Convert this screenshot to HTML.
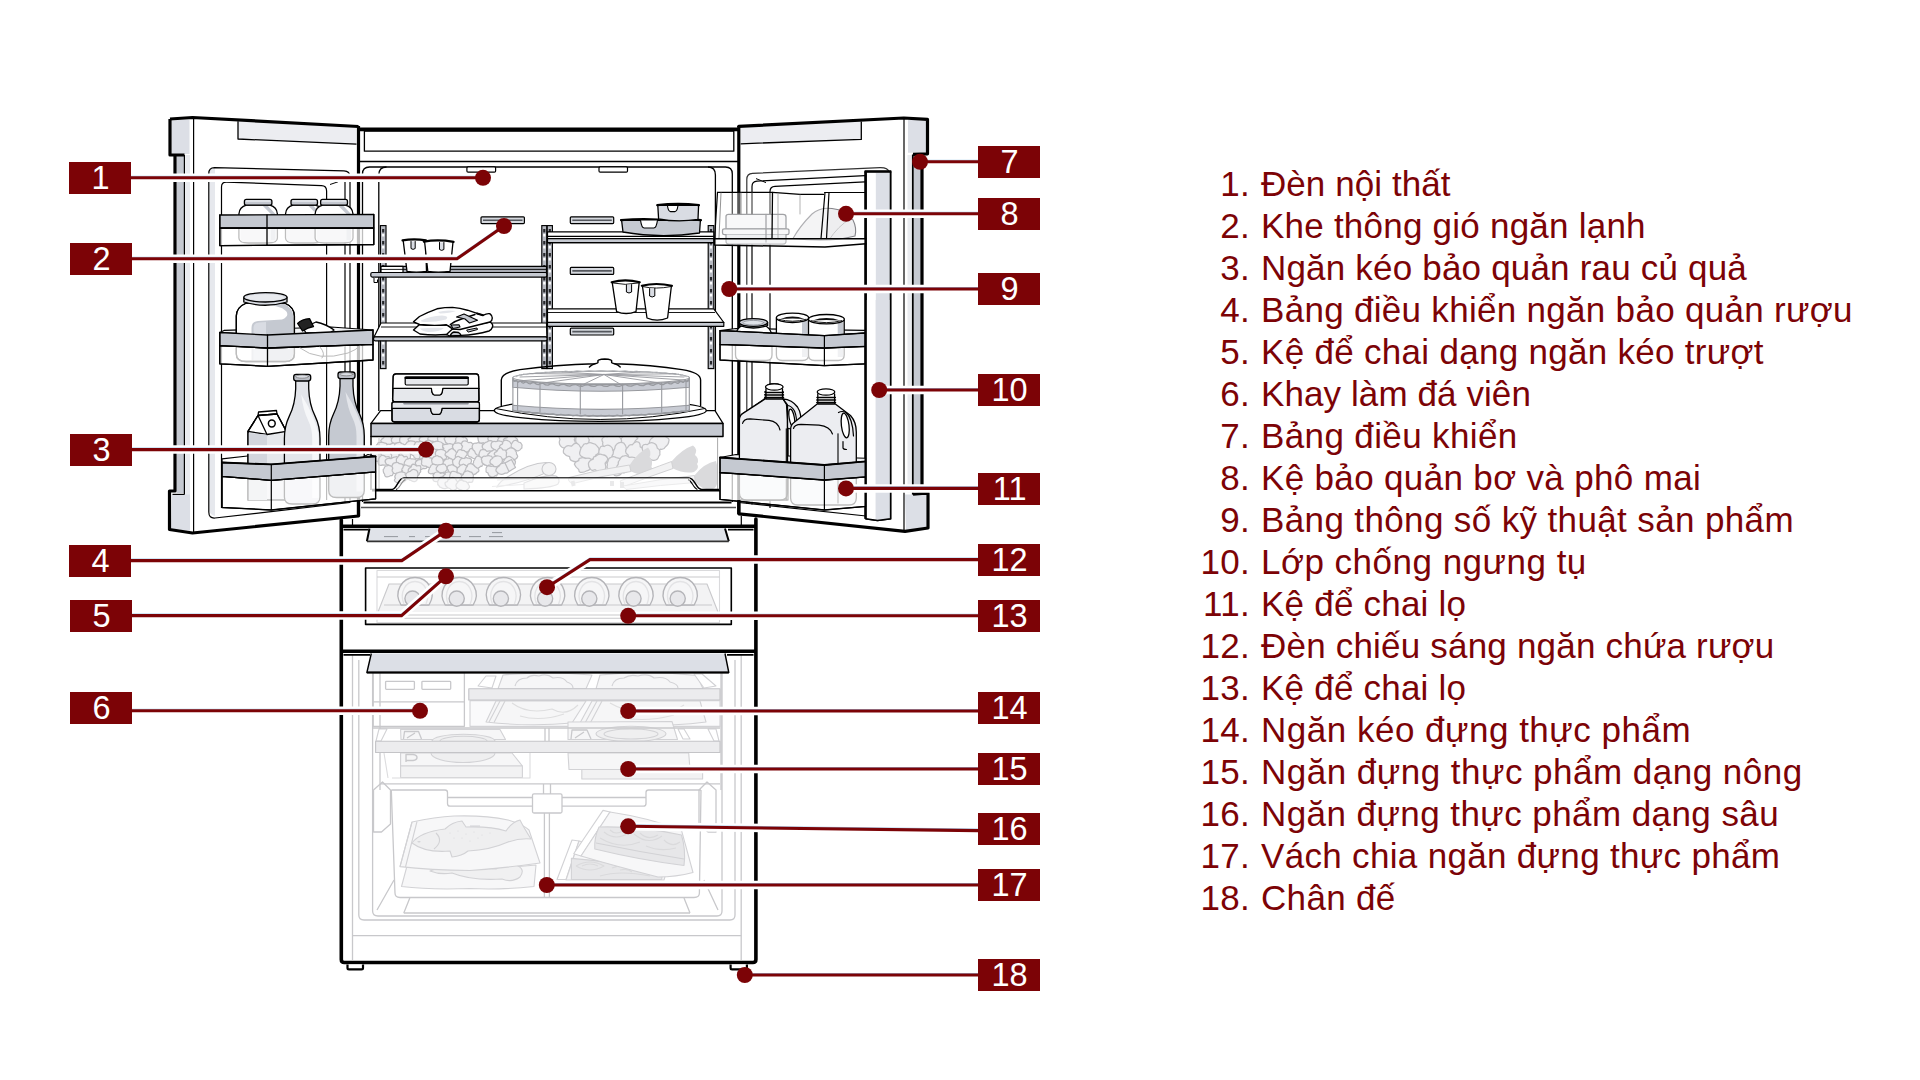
<!DOCTYPE html>
<html lang="vi"><head><meta charset="utf-8"><title>Sơ đồ tủ lạnh</title>
<style>
html,body{margin:0;padding:0;background:#fff;}
body{width:1920px;height:1080px;position:relative;overflow:hidden;font-family:"Liberation Sans",sans-serif;}
#legend{position:absolute;left:0;top:0;color:#7c0306;font-size:35px;letter-spacing:0.32px;}
#legend div{position:absolute;white-space:nowrap;line-height:42px;height:42px;}
#legend .n{text-align:right;width:1250px;left:0;}
#legend .t{left:1261px;}
svg text{font-family:"Liberation Sans",sans-serif;}
</style></head><body>
<svg width="1920" height="1080" viewBox="0 0 1920 1080" style="position:absolute;left:0;top:0">
<!-- 10_cabinet_upper.svg -->
<g id="cab-upper" stroke-linejoin="round" stroke-linecap="butt">
  <!-- back white -->
  <rect x="358" y="128" width="381" height="398" fill="#fff"/>
  <!-- top thick edge -->
  <line x1="357" y1="129.4" x2="739" y2="129.4" stroke="#000" stroke-width="3.6"/>
  <rect x="364.4" y="131.2" width="369.4" height="20" fill="none" stroke="#000" stroke-width="1.3"/>
  <line x1="360" y1="161.5" x2="738" y2="161.5" stroke="#000" stroke-width="1.6"/>
  <!-- liner outer / inner -->
  <path d="M362.5 502 V174 Q362.5 167 369.5 167 H725.5 Q732.3 167 732.3 174 V502" fill="none" stroke="#000" stroke-width="1.3"/>
  <path d="M378.8 411 V175 Q378.8 167 386.5 167" fill="none" stroke="#000" stroke-width="1.3"/>
  <path d="M715.4 411 V175 Q715.4 167 708 167" fill="none" stroke="#000" stroke-width="1.3"/>
  <!-- interior lights -->
  <rect x="466.9" y="166.9" width="28.7" height="5.3" rx="1.2" fill="#fff" stroke="#000" stroke-width="1.2"/>
  <rect x="599" y="166.9" width="28.5" height="5.3" rx="1.2" fill="#fff" stroke="#000" stroke-width="1.2"/>
  <!-- vent slots -->
  <g fill="#d5d8de" stroke="#000" stroke-width="1.2">
    <rect x="481" y="216.8" width="43.4" height="6.8" rx="1"/>
    <rect x="570.3" y="216.8" width="43.4" height="6.8" rx="1"/>
    <rect x="570.3" y="267.4" width="43.4" height="7" rx="1"/>
    <rect x="570.3" y="328.2" width="43.4" height="6.8" rx="1"/>
  </g>
  <g stroke="#55585e" stroke-width="1.6">
    <line x1="483" y1="220.2" x2="522.5" y2="220.2"/>
    <line x1="572.3" y1="220.2" x2="611.8" y2="220.2"/>
    <line x1="572.3" y1="270.9" x2="611.8" y2="270.9"/>
    <line x1="572.3" y1="331.6" x2="611.8" y2="331.6"/>
  </g>
</g>

<!-- 11_rails.svg -->
<g id="rails">
<rect x="380.4" y="225.6" width="5.6" height="143.0" fill="#b7bac2" stroke="#000" stroke-width="1.150"/><line x1="383.2" y1="229.1" x2="383.2" y2="366.6" stroke="#26272b" stroke-width="2.2" stroke-dasharray="3.400 8.600"/><line x1="383.2" y1="234.1" x2="383.2" y2="366.6" stroke="#fff" stroke-width="2.2" stroke-dasharray="2.400 9.600"/>
<rect x="541.8" y="225.6" width="5.0" height="143.0" fill="#b7bac2" stroke="#000" stroke-width="1.150"/><line x1="544.3" y1="229.1" x2="544.3" y2="366.6" stroke="#26272b" stroke-width="2.2" stroke-dasharray="3.400 8.600"/><line x1="544.3" y1="234.1" x2="544.3" y2="366.6" stroke="#fff" stroke-width="2.2" stroke-dasharray="2.400 9.600"/>
<rect x="547.2" y="225.6" width="5.2" height="143.0" fill="#b7bac2" stroke="#000" stroke-width="1.150"/><line x1="549.8" y1="229.1" x2="549.8" y2="366.6" stroke="#26272b" stroke-width="2.2" stroke-dasharray="3.400 8.600"/><line x1="549.8" y1="234.1" x2="549.8" y2="366.6" stroke="#fff" stroke-width="2.2" stroke-dasharray="2.400 9.600"/>
<rect x="708.2" y="225.6" width="5.6" height="143.0" fill="#b7bac2" stroke="#000" stroke-width="1.150"/><line x1="711.0" y1="229.1" x2="711.0" y2="366.6" stroke="#26272b" stroke-width="2.2" stroke-dasharray="3.400 8.600"/><line x1="711.0" y1="234.1" x2="711.0" y2="366.6" stroke="#fff" stroke-width="2.2" stroke-dasharray="2.400 9.600"/>
</g>
<!-- 11b_crisper.svg -->
<g id="crisper" clip-path="url(#clipCrisper)"><clipPath id="clipCrisper"><rect x="371.6" y="437.2" width="346" height="52.2"/></clipPath>
<rect x="371.6" y="437" width="346" height="52" fill="#fff"/>
<g fill="#efeff1" stroke="#bdbdc0" stroke-width="1.250" stroke-linejoin="round">
<path d="M393.1 440.8 Q393.9 442.5 392.3 443.4 Q391.5 444.7 389.7 445.0 Q387.4 446.2 385.0 445.8 Q383.7 445.3 383.5 443.4 Q381.4 442.4 380.6 440.9 Q381.1 439.1 383.8 437.6 Q384.5 434.8 386.1 433.8 Q388.0 432.8 389.6 435.0 Q390.7 435.4 390.7 437.5 Q393.0 438.9 393.1 440.8Z"/>
<path d="M402.2 440.4 Q403.9 443.5 402.2 445.1 Q401.0 446.6 398.4 446.1 Q397.0 446.2 395.7 444.9 Q394.0 444.8 393.4 443.1 Q391.2 441.9 391.4 440.1 Q391.3 438.3 392.9 437.2 Q394.0 435.2 395.8 434.5 Q396.8 434.3 397.8 436.1 Q400.9 436.0 402.1 438.0 Q403.6 438.9 402.2 440.4Z"/>
<path d="M409.9 438.8 Q410.7 440.8 409.1 442.1 Q408.7 444.1 407.0 444.1 Q405.5 445.3 403.9 444.9 Q401.3 445.5 400.7 443.0 Q399.4 441.8 399.7 439.8 Q399.4 438.2 400.9 436.9 Q401.8 433.9 404.2 433.3 Q405.7 432.2 407.1 433.2 Q408.9 433.8 409.6 436.0 Q410.3 437.1 409.9 438.8Z"/>
<path d="M420.9 439.8 Q421.4 441.7 419.6 443.1 Q418.1 444.8 415.8 445.4 Q414.1 446.4 412.5 446.1 Q410.9 446.0 411.1 443.1 Q408.7 441.5 408.0 439.5 Q407.8 438.3 410.5 437.9 Q411.3 435.3 413.0 434.1 Q414.7 432.3 416.4 434.0 Q419.1 434.7 420.2 437.5 Q421.6 438.4 420.9 439.8Z"/>
<path d="M429.6 440.1 Q431.2 442.6 430.1 444.4 Q428.8 445.7 426.0 445.1 Q424.1 445.5 422.4 444.7 Q421.2 444.8 420.8 443.9 Q419.9 442.5 419.9 440.7 Q418.4 439.1 419.8 438.2 Q420.7 436.5 423.1 436.6 Q424.9 434.0 426.4 434.6 Q428.8 435.8 430.1 438.0 Q431.2 438.7 429.6 440.1Z"/>
<path d="M390.0 447.7 Q390.5 449.5 388.0 450.7 Q387.0 453.5 384.4 454.2 Q382.3 454.6 380.3 453.4 Q377.4 453.5 376.6 451.3 Q374.4 450.4 376.3 448.4 Q375.2 445.5 377.6 443.9 Q378.0 441.9 380.5 442.5 Q382.9 441.8 385.2 443.2 Q387.2 443.2 387.3 445.4 Q390.1 446.2 390.0 447.7Z"/>
<path d="M398.6 447.7 Q399.2 449.5 397.5 451.0 Q396.5 452.7 393.7 452.7 Q391.8 453.7 389.9 453.3 Q387.2 453.5 386.2 452.0 Q385.4 450.9 387.6 448.7 Q385.7 446.6 386.7 445.4 Q387.3 443.8 390.1 444.4 Q392.5 443.0 394.8 443.3 Q397.2 442.9 397.7 444.7 Q399.3 445.8 398.6 447.7Z"/>
<path d="M407.5 448.0 Q408.5 450.4 406.2 451.5 Q405.2 452.4 402.5 451.4 Q400.8 452.4 399.1 451.8 Q397.0 452.3 396.4 450.7 Q395.0 449.1 394.8 447.2 Q394.0 445.4 394.9 444.1 Q396.6 442.3 399.7 442.4 Q400.6 442.4 401.5 443.5 Q403.7 443.6 404.6 445.4 Q407.0 446.6 407.5 448.0Z"/>
<path d="M415.9 446.2 Q416.6 448.3 415.2 449.5 Q414.4 452.3 411.8 452.3 Q410.0 452.8 408.4 450.2 Q406.9 449.9 406.2 448.7 Q403.8 448.2 404.4 446.8 Q404.1 444.8 406.4 443.2 Q406.8 441.9 408.1 441.6 Q410.3 440.4 412.3 441.1 Q415.0 440.9 415.7 442.8 Q417.5 444.0 415.9 446.2Z"/>
<path d="M427.1 448.3 Q426.6 450.0 424.6 451.2 Q423.7 452.3 421.7 451.9 Q419.6 453.7 417.8 453.2 Q415.3 453.2 414.9 450.8 Q412.8 449.9 413.3 448.2 Q413.5 445.4 415.2 443.1 Q415.7 441.1 418.4 441.9 Q420.3 440.9 422.2 441.5 Q424.6 442.2 425.1 445.2 Q427.0 446.6 427.1 448.3Z"/>
<path d="M382.3 455.2 Q384.0 457.6 382.8 459.1 Q381.8 461.6 378.9 461.3 Q376.8 461.7 375.0 460.4 Q373.2 460.0 373.4 457.6 Q370.9 457.3 371.6 456.1 Q370.5 454.0 372.0 452.6 Q373.1 450.6 375.9 450.6 Q378.0 449.9 380.0 450.8 Q381.6 450.8 381.8 452.6 Q383.1 453.5 382.3 455.2Z"/>
<path d="M393.7 454.1 Q394.5 455.8 393.4 456.8 Q392.4 458.6 389.5 458.4 Q387.8 459.1 386.1 457.2 Q384.2 457.2 383.2 456.3 Q380.4 454.7 380.7 452.5 Q381.1 451.4 382.9 450.7 Q383.6 449.2 385.5 448.8 Q388.1 447.4 390.6 447.6 Q392.3 448.0 392.1 450.6 Q393.8 452.2 393.7 454.1Z"/>
<path d="M403.1 454.5 Q404.0 456.4 401.7 457.8 Q401.1 459.5 398.5 459.3 Q396.6 461.0 394.8 460.0 Q392.9 459.8 392.1 458.3 Q391.1 457.0 391.7 455.1 Q389.9 453.3 391.2 452.3 Q392.5 450.5 395.0 450.1 Q397.2 448.5 399.1 450.1 Q401.1 450.4 401.0 452.9 Q402.8 453.5 403.1 454.5Z"/>
<path d="M410.4 455.2 Q410.8 457.2 409.9 458.8 Q408.7 459.7 406.8 459.6 Q405.3 461.4 403.9 461.0 Q402.4 460.7 402.1 458.6 Q399.1 457.2 398.6 455.2 Q399.7 453.6 402.3 452.6 Q402.6 450.6 403.7 449.9 Q405.7 449.1 407.7 450.1 Q409.2 450.3 409.2 452.8 Q411.1 453.5 410.4 455.2Z"/>
<path d="M424.4 452.8 Q425.5 455.3 422.7 457.0 Q422.1 458.9 419.4 458.4 Q417.5 459.6 415.5 458.4 Q413.8 458.1 413.6 455.8 Q410.7 454.8 410.4 453.2 Q410.2 451.8 412.3 451.0 Q413.4 449.0 415.9 448.8 Q417.1 448.1 418.4 449.4 Q420.4 449.3 420.9 451.3 Q424.2 451.6 424.4 452.8Z"/>
<path d="M431.5 456.5 Q431.6 458.4 429.0 459.3 Q428.1 461.6 426.1 462.2 Q424.1 463.3 422.3 461.6 Q420.3 461.1 420.0 458.7 Q419.0 457.5 420.2 455.8 Q419.1 454.2 419.9 453.2 Q420.0 451.3 422.3 451.7 Q424.6 450.1 427.0 450.9 Q429.6 450.2 430.2 451.9 Q432.5 453.7 431.5 456.5Z"/>
<path d="M390.8 461.0 Q390.6 462.4 388.9 463.4 Q388.7 465.1 386.4 464.8 Q384.7 465.4 382.9 464.8 Q380.1 465.7 378.8 464.9 Q377.7 463.1 378.3 460.7 Q377.9 458.5 379.8 457.0 Q380.8 455.0 383.2 455.3 Q384.6 455.5 386.0 457.0 Q389.0 456.1 389.7 457.5 Q391.5 458.9 390.8 461.0Z"/>
<path d="M397.6 462.3 Q398.4 464.4 397.1 465.9 Q396.7 467.8 394.7 467.9 Q393.2 468.6 391.2 466.4 Q389.7 466.3 388.9 465.1 Q386.2 464.5 385.7 463.1 Q384.2 460.6 386.5 459.0 Q387.9 457.8 391.2 458.6 Q393.6 456.7 395.5 456.8 Q397.8 455.9 397.5 458.2 Q399.0 459.6 397.6 462.3Z"/>
<path d="M407.8 461.3 Q408.2 462.5 406.0 463.2 Q405.4 464.9 403.5 465.1 Q401.8 466.7 400.2 466.5 Q398.5 465.9 397.9 463.8 Q395.9 462.7 396.4 461.0 Q395.8 458.9 397.5 457.6 Q398.5 455.0 400.9 454.8 Q402.5 454.5 404.0 456.9 Q406.6 455.7 407.2 456.8 Q408.4 458.7 407.8 461.3Z"/>
<path d="M417.4 464.4 Q416.7 465.2 414.6 465.6 Q414.0 467.4 412.6 468.3 Q410.8 469.2 408.9 467.6 Q407.1 467.6 406.7 466.0 Q404.0 465.6 404.1 464.4 Q403.9 462.1 405.5 460.3 Q406.3 458.7 408.5 458.8 Q410.0 458.1 411.7 459.0 Q415.0 458.6 416.4 460.5 Q418.1 462.2 417.4 464.4Z"/>
<path d="M427.2 463.4 Q428.5 466.1 426.7 467.8 Q425.8 469.2 423.0 468.3 Q421.5 470.0 419.9 469.8 Q418.5 468.8 417.8 466.5 Q415.7 465.3 415.4 463.6 Q414.9 461.8 417.1 460.7 Q418.1 459.5 420.1 459.7 Q421.4 458.3 422.7 458.2 Q424.6 458.2 425.1 460.5 Q427.3 461.5 427.2 463.4Z"/>
<path d="M394.4 471.6 Q394.3 473.1 392.8 474.1 Q392.6 475.9 390.8 475.6 Q388.1 477.6 385.7 476.6 Q384.5 476.1 384.6 474.1 Q383.3 472.8 383.3 471.2 Q382.6 469.4 384.2 468.2 Q384.5 466.2 386.4 466.0 Q388.7 464.9 391.1 466.1 Q393.8 466.0 394.0 468.2 Q395.6 469.7 394.4 471.6Z"/>
<path d="M404.7 468.4 Q404.5 469.6 402.0 470.3 Q401.5 473.3 399.6 474.4 Q398.2 475.6 396.7 473.8 Q394.1 474.3 393.0 472.3 Q391.4 470.8 392.8 468.1 Q391.4 466.4 392.2 465.3 Q392.9 462.7 395.9 462.7 Q397.6 461.9 399.4 463.7 Q402.5 463.6 403.6 465.7 Q405.8 466.7 404.7 468.4Z"/>
<path d="M413.7 471.6 Q414.8 473.5 412.7 474.2 Q411.3 475.6 408.8 475.7 Q407.4 475.9 406.1 474.9 Q402.9 475.4 401.3 474.2 Q400.6 473.0 402.6 471.0 Q401.1 469.2 402.6 468.2 Q403.3 466.0 404.8 464.8 Q406.5 464.7 408.5 466.2 Q410.8 465.9 412.2 467.0 Q413.8 469.0 413.7 471.6Z"/>
<path d="M420.3 470.4 Q421.3 471.9 419.7 472.7 Q419.5 474.9 417.9 475.7 Q415.9 476.8 413.7 475.5 Q411.2 475.1 410.2 472.9 Q408.1 472.1 408.2 470.7 Q408.0 468.4 411.2 467.0 Q411.4 464.4 413.1 464.2 Q414.9 464.2 416.7 466.0 Q419.0 465.4 420.4 465.9 Q421.5 467.7 420.3 470.4Z"/>
<path d="M407.6 478.3 Q407.9 479.5 405.6 480.1 Q404.8 481.6 403.2 482.2 Q401.0 483.5 398.9 482.7 Q396.2 483.0 395.3 481.5 Q393.4 480.5 395.4 478.3 Q394.1 476.3 395.6 475.0 Q395.7 472.5 398.3 472.5 Q401.2 471.5 404.1 472.4 Q405.6 472.4 405.2 474.8 Q407.4 476.2 407.6 478.3Z"/>
<path d="M417.5 476.3 Q418.0 477.8 417.3 479.0 Q417.0 481.0 415.3 481.4 Q413.4 482.2 411.1 480.4 Q409.4 480.4 408.6 479.1 Q406.1 477.9 406.0 475.9 Q405.3 473.9 407.1 472.7 Q408.2 471.5 410.2 471.3 Q412.4 468.8 414.7 469.7 Q417.4 470.1 418.0 473.0 Q418.6 474.4 417.5 476.3Z"/>
<path d="M439.9 439.2 Q440.0 440.7 438.4 442.0 Q437.9 444.1 436.0 444.7 Q434.5 445.6 432.7 443.7 Q430.3 443.6 429.3 441.9 Q427.8 440.4 427.8 438.7 Q427.9 437.2 429.7 436.3 Q430.9 435.3 432.8 435.3 Q433.8 434.7 434.8 435.3 Q437.7 435.0 439.3 436.2 Q440.3 437.5 439.9 439.2Z"/>
<path d="M450.6 439.8 Q451.3 442.2 449.5 443.7 Q448.8 445.2 446.1 444.3 Q444.6 445.1 443.0 443.6 Q440.3 444.3 439.1 443.3 Q437.5 441.3 437.6 438.9 Q436.9 437.0 439.4 436.3 Q439.6 434.7 441.9 435.5 Q443.8 433.8 445.9 434.4 Q447.7 434.6 448.3 436.5 Q450.6 437.8 450.6 439.8Z"/>
<path d="M457.3 441.4 Q458.3 443.5 456.7 444.5 Q456.4 446.7 454.3 446.5 Q452.1 446.8 449.7 444.8 Q448.2 444.9 447.7 443.8 Q444.8 442.6 445.0 440.5 Q443.2 438.3 445.4 437.2 Q446.3 435.3 449.4 435.8 Q451.1 433.7 452.9 434.3 Q455.3 434.6 456.7 436.4 Q458.6 438.4 457.3 441.4Z"/>
<path d="M467.5 440.8 Q467.0 442.6 465.1 444.1 Q464.4 445.3 462.7 445.1 Q461.7 446.3 460.5 445.5 Q457.2 445.4 455.0 444.1 Q454.2 442.9 456.0 441.0 Q455.2 438.9 456.2 437.5 Q456.9 435.8 459.3 436.1 Q461.2 436.0 463.1 437.6 Q465.2 436.8 465.7 437.8 Q467.3 439.0 467.5 440.8Z"/>
<path d="M435.4 447.1 Q435.6 448.5 433.8 449.2 Q432.9 451.1 431.0 451.8 Q428.8 453.3 426.7 451.8 Q423.8 452.4 423.3 450.2 Q421.1 448.4 422.4 445.7 Q422.1 444.2 424.6 443.5 Q425.0 440.7 427.2 440.3 Q429.2 439.8 431.1 441.3 Q433.9 440.9 434.9 442.5 Q435.9 444.6 435.4 447.1Z"/>
<path d="M442.7 447.3 Q443.5 448.8 442.8 450.0 Q441.7 451.8 438.7 451.6 Q437.2 452.5 435.7 452.0 Q434.1 451.8 433.6 449.9 Q430.1 448.5 429.9 446.5 Q430.0 444.6 431.7 443.4 Q432.6 441.7 434.9 441.6 Q436.7 440.5 438.6 441.5 Q441.5 441.7 442.9 443.7 Q443.6 445.2 442.7 447.3Z"/>
<path d="M454.4 448.2 Q454.8 449.9 452.5 450.8 Q453.4 453.7 452.0 454.0 Q449.9 454.6 447.4 453.4 Q444.0 453.4 442.5 451.4 Q442.3 450.2 443.9 448.4 Q441.8 446.2 442.9 445.0 Q445.0 444.0 448.0 444.0 Q449.6 443.3 451.1 443.9 Q452.8 443.9 452.9 445.8 Q454.5 446.7 454.4 448.2Z"/>
<path d="M463.3 448.8 Q465.2 451.3 464.0 452.6 Q462.9 453.5 460.0 452.4 Q458.6 453.5 457.2 453.1 Q455.1 452.9 454.2 450.9 Q453.2 450.1 453.4 449.0 Q451.6 446.3 453.2 444.8 Q453.9 443.1 456.3 443.2 Q458.7 442.2 461.0 443.6 Q462.5 443.6 462.5 445.5 Q463.4 446.9 463.3 448.8Z"/>
<path d="M473.8 446.3 Q473.8 447.8 471.7 449.0 Q470.7 450.9 468.3 451.2 Q466.9 452.9 465.6 452.0 Q462.9 452.5 461.8 450.9 Q461.1 448.9 462.6 446.2 Q460.7 444.2 461.6 443.4 Q462.1 440.9 464.6 440.8 Q466.5 440.6 468.6 442.6 Q471.4 441.9 472.2 443.5 Q473.9 444.6 473.8 446.3Z"/>
<path d="M439.4 454.0 Q440.7 456.0 439.8 457.2 Q438.6 459.4 435.9 459.6 Q434.4 460.2 433.0 458.9 Q430.5 459.3 429.7 457.4 Q429.1 455.8 429.8 453.8 Q428.0 451.5 429.2 450.3 Q429.9 448.0 432.3 447.9 Q433.7 447.6 435.4 449.6 Q437.7 448.8 438.5 450.2 Q439.8 451.8 439.4 454.0Z"/>
<path d="M447.2 453.6 Q448.0 455.8 446.6 457.5 Q446.4 459.5 444.2 459.3 Q442.6 461.5 440.6 460.2 Q439.0 459.4 438.1 457.3 Q435.7 456.5 435.5 454.8 Q434.7 452.1 436.9 450.3 Q437.7 449.5 439.5 449.7 Q441.3 449.1 443.3 449.9 Q445.4 450.2 446.0 452.4 Q447.3 452.8 447.2 453.6Z"/>
<path d="M456.8 454.1 Q458.8 456.0 458.7 457.3 Q457.2 459.7 453.7 459.9 Q452.4 460.8 451.0 458.7 Q448.8 458.6 448.0 456.8 Q444.8 456.0 445.0 454.3 Q445.1 452.6 447.7 451.6 Q448.9 449.4 451.1 448.8 Q452.1 447.6 453.2 449.3 Q455.1 449.9 456.0 452.0 Q457.6 452.7 456.8 454.1Z"/>
<path d="M467.2 453.9 Q467.3 455.4 465.5 456.6 Q465.4 458.9 463.4 459.1 Q461.7 460.5 459.7 459.3 Q457.0 458.8 455.5 457.0 Q454.8 455.6 456.2 453.9 Q456.1 452.8 457.3 452.1 Q457.7 449.8 459.8 449.7 Q461.0 449.3 462.2 450.5 Q464.3 450.0 465.0 451.3 Q467.4 452.1 467.2 453.9Z"/>
<path d="M478.3 453.1 Q480.1 455.1 478.9 456.4 Q478.1 458.7 475.1 458.9 Q473.3 458.8 471.3 457.2 Q469.5 457.2 468.7 456.2 Q467.5 455.4 467.9 454.0 Q467.4 452.2 469.1 450.9 Q469.3 449.1 470.7 448.7 Q472.4 448.2 474.3 449.3 Q476.6 449.2 477.1 450.9 Q478.5 451.8 478.3 453.1Z"/>
<path d="M432.6 461.4 Q433.8 463.0 433.7 464.4 Q432.6 466.8 430.1 467.5 Q427.9 467.7 425.8 466.0 Q423.1 466.4 422.2 465.2 Q420.8 464.1 421.7 462.3 Q421.2 459.7 422.5 457.7 Q424.1 456.7 427.1 457.3 Q428.5 456.7 429.7 457.9 Q431.6 457.8 432.6 458.8 Q433.7 459.7 432.6 461.4Z"/>
<path d="M443.1 460.8 Q444.6 462.6 442.8 463.7 Q441.7 465.9 439.0 466.2 Q437.4 466.2 435.8 464.7 Q433.7 465.2 433.1 464.0 Q431.7 463.1 431.9 461.7 Q431.0 459.9 432.3 458.5 Q433.2 456.4 435.8 456.1 Q437.3 454.9 438.8 456.6 Q440.6 456.4 441.4 457.6 Q443.4 458.8 443.1 460.8Z"/>
<path d="M455.3 463.3 Q455.2 464.7 453.7 465.9 Q453.5 468.3 451.6 468.7 Q449.2 469.1 446.8 467.5 Q445.4 466.8 445.1 465.0 Q443.1 464.6 443.2 463.6 Q442.5 461.8 444.5 460.4 Q445.7 458.8 448.3 458.8 Q449.3 457.7 450.2 458.6 Q452.4 458.8 453.4 460.6 Q455.8 461.6 455.3 463.3Z"/>
<path d="M465.7 461.4 Q466.3 463.5 464.1 464.9 Q462.7 466.7 460.3 467.3 Q457.9 468.0 455.7 467.2 Q454.3 466.9 454.0 465.4 Q452.5 463.8 452.6 461.7 Q452.1 460.1 454.3 459.1 Q455.3 457.3 457.2 456.6 Q458.5 455.9 459.9 457.3 Q461.9 457.1 462.5 459.0 Q465.3 459.9 465.7 461.4Z"/>
<path d="M470.3 463.8 Q471.2 465.2 470.8 466.1 Q469.5 467.9 467.0 468.1 Q465.3 469.0 463.8 467.6 Q462.0 467.3 461.2 465.9 Q459.3 465.0 459.1 463.6 Q459.1 461.2 460.6 459.3 Q461.6 457.8 464.1 458.5 Q466.2 456.8 468.0 458.2 Q471.1 457.9 471.6 460.3 Q471.7 461.8 470.3 463.8Z"/>
<path d="M439.6 469.6 Q440.5 472.1 439.4 473.9 Q438.9 475.2 436.9 474.6 Q435.3 475.1 433.2 473.3 Q430.3 474.3 429.0 473.1 Q427.6 471.4 429.3 468.8 Q429.0 467.7 430.3 467.2 Q430.6 464.9 432.3 464.5 Q433.9 463.6 435.5 464.9 Q438.8 464.5 440.0 466.3 Q440.7 467.7 439.6 469.6Z"/>
<path d="M447.1 469.1 Q447.5 470.3 445.9 470.9 Q445.6 472.5 443.6 472.2 Q442.0 473.0 440.4 472.5 Q438.2 472.8 437.7 471.0 Q435.8 470.3 436.2 468.9 Q435.9 467.2 437.7 465.9 Q438.0 464.5 440.0 464.8 Q442.2 463.7 444.3 464.2 Q445.3 464.3 445.6 465.4 Q447.4 467.0 447.1 469.1Z"/>
<path d="M460.1 469.6 Q460.7 472.4 458.4 474.4 Q457.9 476.5 455.2 475.8 Q453.2 476.3 451.1 474.1 Q449.6 474.5 449.4 473.0 Q448.1 472.1 448.4 470.5 Q446.5 468.2 447.4 466.8 Q448.0 464.8 450.8 465.1 Q452.1 464.1 453.8 465.6 Q456.1 465.9 456.9 468.1 Q459.3 468.7 460.1 469.6Z"/>
<path d="M468.5 469.6 Q468.7 471.2 466.6 472.1 Q466.3 473.7 464.8 473.7 Q463.3 475.0 461.8 474.0 Q459.2 474.0 457.7 472.7 Q456.5 471.4 457.1 469.6 Q457.2 468.0 459.0 466.8 Q460.1 465.0 462.3 464.7 Q463.4 463.7 464.4 464.6 Q466.3 465.4 467.6 467.0 Q469.1 468.1 468.5 469.6Z"/>
<path d="M478.4 469.2 Q479.9 471.3 477.2 472.3 Q476.0 474.1 473.6 474.6 Q471.8 476.5 469.8 475.5 Q466.9 475.2 465.4 473.0 Q464.1 471.8 465.6 469.5 Q465.7 467.7 467.4 466.3 Q467.4 464.1 468.8 463.8 Q471.2 462.9 473.5 464.8 Q475.4 464.3 475.3 465.9 Q478.3 467.1 478.4 469.2Z"/>
<path d="M445.1 476.5 Q445.4 478.9 442.7 480.5 Q441.8 482.0 439.7 482.1 Q438.3 483.1 436.9 481.6 Q434.0 482.1 433.2 480.3 Q432.5 479.1 433.8 477.2 Q432.4 475.2 433.8 474.1 Q434.7 472.4 436.5 472.0 Q438.5 471.2 440.4 473.4 Q443.1 472.5 444.2 473.4 Q445.7 474.6 445.1 476.5Z"/>
<path d="M455.6 478.3 Q455.4 480.0 453.2 481.0 Q452.1 482.3 449.5 481.5 Q447.5 483.5 446.1 482.8 Q443.8 483.3 443.6 481.4 Q441.9 479.9 442.8 477.6 Q442.5 475.6 445.1 474.5 Q444.9 472.3 446.4 472.3 Q448.1 471.5 449.9 472.2 Q452.4 472.7 453.8 474.8 Q455.5 476.4 455.6 478.3Z"/>
<path d="M462.7 477.3 Q462.8 478.3 460.2 478.7 Q459.8 481.2 458.2 482.4 Q455.8 483.8 453.4 482.5 Q451.0 483.1 450.5 481.0 Q449.2 479.4 449.6 477.1 Q449.5 474.6 451.0 472.7 Q451.2 470.8 453.3 471.4 Q455.1 471.1 457.2 472.8 Q459.0 472.7 460.0 473.6 Q462.1 475.3 462.7 477.3Z"/>
<path d="M473.1 477.2 Q473.7 479.6 472.7 481.4 Q471.9 483.0 469.4 482.1 Q468.0 483.0 466.6 482.2 Q464.1 482.9 463.4 481.1 Q460.9 479.8 461.2 477.5 Q461.1 475.7 463.3 474.5 Q463.5 471.5 465.9 471.3 Q467.8 470.4 469.8 471.8 Q472.1 471.6 472.7 473.8 Q474.1 475.1 473.1 477.2Z"/>
<path d="M448.1 483.0 Q449.2 485.2 448.8 486.8 Q447.8 488.5 445.2 488.5 Q443.2 488.9 441.0 487.4 Q439.3 487.5 439.0 485.7 Q437.2 484.4 437.7 482.6 Q437.1 481.2 438.4 480.4 Q439.0 477.5 441.3 477.2 Q443.2 475.9 444.9 478.1 Q446.9 477.9 448.0 478.9 Q449.3 480.4 448.1 483.0Z"/>
<path d="M457.8 484.0 Q458.2 486.0 457.2 487.5 Q456.1 489.9 453.7 490.4 Q451.6 490.9 449.9 488.5 Q447.9 488.2 446.9 486.9 Q445.0 485.5 445.1 483.7 Q444.6 482.3 447.3 481.6 Q447.9 479.2 450.3 478.7 Q452.1 476.7 454.1 477.7 Q455.8 478.5 456.6 480.8 Q458.5 482.0 457.8 484.0Z"/>
<path d="M468.5 484.7 Q470.3 486.7 468.8 488.2 Q467.0 490.6 464.0 491.4 Q462.9 491.9 461.8 490.1 Q459.4 489.7 457.8 488.4 Q456.0 487.5 456.0 486.0 Q455.6 484.0 457.7 482.5 Q458.1 480.5 460.2 480.4 Q461.7 479.8 463.6 481.2 Q466.1 480.9 467.0 482.5 Q468.4 483.4 468.5 484.7Z"/>
<path d="M490.5 439.7 Q490.8 441.1 489.7 442.1 Q488.5 444.6 486.0 445.3 Q484.7 444.7 483.3 442.7 Q480.8 443.6 479.5 443.0 Q477.9 441.0 478.1 438.6 Q476.9 437.0 479.4 436.3 Q480.2 435.1 482.5 435.2 Q484.4 432.9 486.4 432.7 Q489.3 432.9 490.3 435.6 Q492.1 437.2 490.5 439.7Z"/>
<path d="M501.4 440.2 Q501.2 441.8 498.7 442.8 Q497.7 444.4 495.6 444.7 Q494.2 445.9 492.8 445.1 Q490.9 444.7 489.9 443.1 Q487.9 442.1 488.6 440.3 Q487.2 438.5 488.3 437.3 Q489.5 435.9 491.8 435.4 Q493.9 434.5 496.1 435.5 Q497.9 435.3 497.9 437.5 Q500.3 438.7 501.4 440.2Z"/>
<path d="M509.0 441.2 Q508.8 442.7 507.2 444.0 Q506.8 446.6 504.5 446.6 Q502.9 448.0 501.3 446.4 Q498.7 446.4 497.4 444.8 Q496.8 443.7 498.1 441.9 Q496.9 440.2 498.3 438.9 Q499.1 436.7 501.5 436.5 Q503.4 435.5 505.1 436.8 Q506.9 436.8 507.7 437.7 Q509.9 438.9 509.0 441.2Z"/>
<path d="M517.8 440.5 Q516.7 441.8 514.2 442.8 Q513.4 445.3 511.9 446.2 Q510.5 446.4 509.2 444.1 Q507.1 444.0 505.8 443.0 Q503.7 441.7 503.3 440.0 Q503.8 438.3 507.3 437.6 Q507.7 435.5 509.3 435.4 Q511.1 434.5 512.7 435.8 Q514.5 436.0 515.2 437.3 Q517.3 438.7 517.8 440.5Z"/>
<path d="M485.3 448.9 Q485.1 450.3 483.0 451.4 Q482.4 454.0 480.2 454.6 Q478.6 455.7 476.8 454.8 Q475.2 453.8 474.6 451.1 Q472.9 450.2 472.7 448.9 Q471.6 446.5 472.6 444.8 Q473.5 442.9 476.2 443.3 Q478.1 441.9 480.0 443.1 Q482.2 443.0 483.0 444.8 Q485.6 446.4 485.3 448.9Z"/>
<path d="M495.1 447.1 Q495.2 449.1 493.1 450.3 Q492.3 451.5 490.6 451.4 Q489.1 453.4 487.7 452.6 Q486.0 451.7 485.0 449.6 Q482.8 449.0 482.5 447.8 Q481.4 445.4 483.9 443.8 Q485.1 442.2 487.2 441.8 Q489.5 439.8 491.7 440.9 Q493.9 441.7 494.3 444.5 Q496.0 445.5 495.1 447.1Z"/>
<path d="M503.9 447.2 Q503.7 448.6 500.8 449.1 Q500.0 450.5 498.4 450.7 Q497.1 452.0 495.9 451.5 Q494.3 450.6 493.3 448.7 Q491.1 447.6 491.1 445.9 Q490.6 443.6 492.0 442.1 Q493.3 441.1 495.9 441.7 Q498.1 440.6 500.1 441.1 Q501.9 441.1 502.6 442.4 Q504.5 444.5 503.9 447.2Z"/>
<path d="M512.5 446.4 Q512.2 448.3 510.2 449.7 Q509.8 452.4 508.0 452.8 Q506.2 454.0 504.5 451.8 Q502.2 451.5 501.5 449.6 Q499.0 448.3 499.5 446.5 Q500.0 444.8 502.6 443.8 Q502.5 441.7 503.5 441.0 Q505.7 439.2 508.4 441.0 Q510.1 441.6 510.9 443.4 Q513.3 444.4 512.5 446.4Z"/>
<path d="M521.9 446.6 Q522.4 448.0 521.0 448.7 Q520.0 450.4 518.1 450.8 Q516.6 451.2 515.3 449.8 Q513.9 449.6 513.4 448.4 Q511.0 448.0 511.2 446.9 Q510.8 444.2 512.6 442.1 Q513.6 440.1 515.8 440.3 Q517.3 440.6 518.7 442.2 Q520.6 442.2 521.3 443.6 Q522.6 444.9 521.9 446.6Z"/>
<path d="M490.2 454.5 Q490.9 456.5 490.3 458.2 Q488.8 460.4 486.2 461.4 Q483.8 462.8 481.8 460.7 Q478.8 460.8 478.7 458.2 Q478.2 457.2 479.1 455.8 Q478.8 453.5 479.8 451.5 Q480.5 449.4 483.2 449.7 Q485.1 449.3 486.9 451.3 Q489.7 450.4 490.8 451.3 Q491.8 452.4 490.2 454.5Z"/>
<path d="M498.3 455.1 Q499.7 457.9 499.3 460.0 Q497.8 461.3 495.0 460.6 Q493.6 461.8 492.3 460.4 Q490.1 461.0 489.0 459.9 Q487.4 458.4 487.6 456.1 Q487.2 454.2 489.4 452.9 Q490.4 451.2 492.3 450.8 Q493.9 449.0 495.4 449.7 Q496.9 450.5 497.4 452.9 Q499.1 453.5 498.3 455.1Z"/>
<path d="M506.9 453.7 Q507.7 456.0 506.5 457.7 Q505.6 459.7 502.9 459.2 Q501.6 460.6 500.3 459.8 Q498.6 459.1 497.7 456.9 Q494.6 455.9 494.2 454.2 Q494.0 452.4 497.0 451.3 Q497.9 448.5 500.2 447.6 Q501.5 447.3 502.9 449.9 Q505.5 450.0 507.3 450.9 Q508.3 452.0 506.9 453.7Z"/>
<path d="M516.4 454.0 Q518.0 455.7 517.6 456.7 Q516.4 459.7 512.9 459.8 Q511.3 460.5 509.8 459.6 Q507.8 459.3 506.8 457.4 Q505.8 455.5 506.7 452.9 Q505.7 451.6 506.1 450.7 Q507.6 448.5 510.3 447.8 Q512.3 447.6 514.1 448.9 Q515.2 449.4 515.4 450.9 Q516.9 452.2 516.4 454.0Z"/>
<path d="M484.8 462.8 Q484.3 464.3 482.2 465.3 Q482.3 466.8 480.7 466.2 Q478.9 468.7 477.2 468.1 Q475.0 467.1 473.7 464.9 Q472.2 464.3 473.5 462.9 Q473.1 461.0 474.7 459.6 Q475.6 457.3 477.2 456.1 Q479.0 455.8 480.7 457.2 Q482.8 457.9 483.9 459.9 Q485.8 461.1 484.8 462.8Z"/>
<path d="M494.1 460.3 Q494.6 462.5 492.5 464.1 Q491.4 465.2 489.0 465.0 Q487.8 466.5 486.5 465.4 Q484.7 465.4 483.6 464.0 Q481.3 462.8 481.9 460.6 Q480.5 458.6 482.3 457.6 Q482.8 455.8 485.4 456.3 Q487.7 455.3 489.9 455.8 Q491.9 455.8 492.2 457.5 Q495.0 458.3 494.1 460.3Z"/>
<path d="M502.2 461.5 Q502.2 462.9 501.0 463.9 Q500.1 465.6 498.1 465.8 Q496.9 467.4 495.9 466.9 Q493.4 466.8 492.4 464.6 Q489.3 463.5 490.0 461.2 Q490.3 459.5 492.7 458.3 Q492.8 456.7 494.5 456.6 Q496.5 455.6 498.6 456.0 Q501.1 456.1 501.9 458.4 Q502.9 459.8 502.2 461.5Z"/>
<path d="M515.3 462.7 Q515.6 464.7 512.8 466.1 Q512.5 468.9 510.3 469.2 Q508.4 470.2 506.5 468.1 Q504.1 468.2 502.9 467.0 Q501.3 465.6 502.8 463.1 Q502.5 461.8 503.9 460.8 Q504.9 458.3 506.8 457.2 Q509.3 455.6 511.4 457.5 Q513.2 458.1 513.9 459.9 Q516.0 460.9 515.3 462.7Z"/>
<path d="M499.6 470.7 Q500.0 473.1 497.1 474.4 Q497.3 476.3 495.3 475.6 Q493.3 477.6 491.1 476.9 Q488.6 476.2 487.9 472.9 Q485.6 472.3 486.1 471.1 Q485.2 468.3 487.0 466.3 Q488.4 465.6 491.2 466.4 Q492.8 465.8 494.2 466.7 Q496.8 466.7 498.3 467.6 Q500.0 468.9 499.6 470.7Z"/>
<path d="M510.1 469.1 Q510.3 471.0 508.0 472.2 Q507.3 473.5 505.3 473.1 Q503.7 474.3 502.0 474.3 Q498.6 474.6 497.3 472.3 Q495.3 471.1 496.2 469.1 Q496.7 467.1 499.5 465.6 Q500.2 463.3 502.3 463.4 Q504.5 462.5 506.3 463.5 Q507.5 464.0 507.5 465.9 Q510.0 467.2 510.1 469.1Z"/>
<path d="M505 463 l6.500 -3.500 l4 8 l-6.500 4Z"/>
</g>
<g fill="#f0f0f2" stroke="#c1c1c4" stroke-width="1.250" stroke-linejoin="round">
<path d="M574.2 439.6 Q576.1 442.9 574.8 445.2 Q573.4 449.4 568.9 449.3 Q566.8 450.6 564.8 448.2 Q561.9 448.0 560.5 445.9 Q558.3 443.3 560.0 439.5 Q558.6 437.0 559.2 435.2 Q561.3 432.6 565.1 432.1 Q568.3 429.4 571.1 430.9 Q573.5 432.7 574.1 436.9 Q576.0 437.7 574.2 439.6Z"/>
<path d="M593.3 441.2 Q594.0 444.2 590.5 445.7 Q589.4 447.7 586.1 446.8 Q583.1 449.6 580.3 450.3 Q577.7 448.7 577.6 443.7 Q575.7 442.8 575.8 441.4 Q575.4 438.1 576.9 435.3 Q577.4 432.9 580.1 433.1 Q583.5 431.3 587.0 431.6 Q589.9 432.3 591.3 434.9 Q594.0 437.6 593.3 441.2Z"/>
<path d="M608.4 441.2 Q608.9 443.7 605.5 444.9 Q604.8 448.6 601.9 449.5 Q599.4 450.5 596.3 447.2 Q592.1 448.2 589.8 446.3 Q588.1 443.6 589.3 439.8 Q586.8 436.2 589.0 434.2 Q590.2 431.0 594.0 430.9 Q597.5 429.8 601.1 432.2 Q604.4 431.6 604.7 434.8 Q608.4 437.6 608.4 441.2Z"/>
<path d="M622.8 443.6 Q624.2 446.3 620.7 447.3 Q618.5 449.5 614.6 449.5 Q611.3 452.7 608.5 451.7 Q605.5 450.7 604.5 447.2 Q601.9 445.3 602.9 442.4 Q600.5 439.0 603.9 437.2 Q605.6 433.6 609.3 432.3 Q612.2 429.9 615.3 433.2 Q617.6 433.9 618.8 436.6 Q622.7 439.6 622.8 443.6Z"/>
<path d="M638.4 441.7 Q638.9 445.3 636.8 448.1 Q635.2 451.1 631.2 450.5 Q628.9 453.4 626.6 451.0 Q622.8 450.7 621.4 446.9 Q620.2 444.3 621.7 441.0 Q620.3 438.2 622.8 437.0 Q623.6 433.0 626.3 432.0 Q628.7 431.4 631.2 433.6 Q634.9 433.8 636.3 437.1 Q639.1 438.9 638.4 441.7Z"/>
<path d="M654.1 442.7 Q654.5 445.7 651.6 447.7 Q650.0 449.4 646.6 449.3 Q643.0 451.3 639.5 451.0 Q636.9 449.6 635.8 446.5 Q633.1 445.4 634.7 443.0 Q634.3 440.4 637.6 438.7 Q637.9 435.2 639.7 434.0 Q642.1 432.8 644.8 435.0 Q650.1 434.6 652.6 437.4 Q654.7 439.8 654.1 442.7Z"/>
<path d="M668.8 441.3 Q668.8 444.6 665.3 447.0 Q664.1 449.8 660.5 449.2 Q658.4 451.4 656.5 449.3 Q652.2 450.3 650.6 447.9 Q648.7 445.3 649.5 441.9 Q650.0 439.0 653.4 437.0 Q653.1 433.7 655.3 433.9 Q658.1 431.4 661.3 432.0 Q664.9 432.2 665.8 437.0 Q669.8 438.3 668.8 441.3Z"/>
<path d="M584.6 451.5 Q586.4 454.6 583.4 456.7 Q583.0 460.6 579.2 461.2 Q575.6 462.5 571.7 460.6 Q569.8 460.0 569.6 456.7 Q565.1 455.2 563.5 452.8 Q562.6 448.8 566.3 446.2 Q567.8 445.1 571.6 446.2 Q573.8 443.3 576.4 443.2 Q579.2 444.1 580.6 447.4 Q584.1 448.9 584.6 451.5Z"/>
<path d="M599.2 450.7 Q599.7 453.2 595.9 454.8 Q595.0 458.8 591.6 459.3 Q589.4 460.2 587.2 458.5 Q583.4 457.9 580.9 455.9 Q578.8 453.8 580.1 450.9 Q580.4 448.1 582.8 445.9 Q583.5 443.1 586.9 443.8 Q589.7 441.7 592.5 443.4 Q595.8 443.7 597.2 446.3 Q599.5 448.1 599.2 450.7Z"/>
<path d="M616.5 454.2 Q617.5 457.5 613.3 459.0 Q612.1 461.2 609.7 461.8 Q605.7 463.8 601.9 463.2 Q598.3 462.2 597.4 458.4 Q596.0 457.2 598.8 454.6 Q598.4 450.8 600.0 447.7 Q601.0 445.6 604.1 446.5 Q607.4 443.9 610.3 446.0 Q612.6 447.2 612.9 450.6 Q616.9 452.1 616.5 454.2Z"/>
<path d="M629.6 452.1 Q630.7 456.3 627.9 459.2 Q627.0 461.0 624.2 460.5 Q621.3 462.5 618.1 460.3 Q614.1 460.8 612.9 458.0 Q610.9 456.8 613.1 454.0 Q613.0 451.0 614.8 448.4 Q614.9 445.6 616.4 444.4 Q619.8 441.1 623.7 443.0 Q625.8 445.0 626.7 449.1 Q629.3 450.2 629.6 452.1Z"/>
<path d="M645.2 451.6 Q645.6 454.3 640.7 455.7 Q639.3 458.5 635.7 458.6 Q633.1 460.3 630.8 460.0 Q628.6 458.3 628.0 454.8 Q625.6 453.4 625.6 451.5 Q625.6 448.7 628.2 446.8 Q629.1 444.1 632.2 444.8 Q635.1 441.2 637.5 441.8 Q640.3 442.0 640.2 446.8 Q644.8 448.6 645.2 451.6Z"/>
<path d="M659.8 452.9 Q660.6 455.0 658.8 456.3 Q657.8 459.9 654.0 460.4 Q652.0 460.5 649.7 458.7 Q645.3 458.8 643.4 456.0 Q642.5 454.6 643.5 452.7 Q641.6 449.0 642.3 446.2 Q643.5 443.9 647.3 444.6 Q650.6 441.6 654.0 443.3 Q656.8 444.1 657.3 448.2 Q660.6 450.0 659.8 452.9Z"/>
<path d="M594.2 463.8 Q593.5 466.3 590.3 468.6 Q589.3 470.4 586.8 470.8 Q583.5 473.0 580.3 472.3 Q578.7 472.0 578.7 469.5 Q575.5 467.1 574.4 464.2 Q574.9 461.8 578.7 460.7 Q578.7 458.2 580.4 458.2 Q582.7 457.0 585.4 458.5 Q589.2 457.5 591.0 459.2 Q593.7 461.0 594.2 463.8Z"/>
<path d="M605.1 463.2 Q606.3 466.7 605.3 469.4 Q604.4 471.9 601.5 471.5 Q598.3 472.7 595.2 469.7 Q591.3 471.1 590.5 469.2 Q588.2 466.9 588.4 463.8 Q588.5 460.8 593.3 459.1 Q593.2 456.2 595.4 456.5 Q598.9 453.2 602.2 454.6 Q606.2 454.9 607.5 458.0 Q608.3 459.9 605.1 463.2Z"/>
<path d="M625.1 465.8 Q625.1 469.8 621.9 472.5 Q620.6 475.7 617.3 475.6 Q615.1 476.8 612.6 473.4 Q609.9 472.4 608.4 469.5 Q606.0 467.8 607.4 465.0 Q606.7 462.6 608.1 461.0 Q608.4 457.7 611.0 457.3 Q613.5 455.9 616.3 457.6 Q620.9 458.2 624.1 460.4 Q625.8 462.8 625.1 465.8Z"/>
<path d="M637.7 463.2 Q636.2 465.8 632.0 468.0 Q631.1 470.8 628.4 470.9 Q625.9 473.1 623.5 472.8 Q619.4 471.8 617.0 469.0 Q615.9 467.1 618.3 464.1 Q617.9 461.5 619.8 459.6 Q620.9 456.1 624.4 455.9 Q626.9 455.0 629.2 457.4 Q634.2 456.5 636.0 458.5 Q640.1 459.9 637.7 463.2Z"/>
<path d="M650.4 462.1 Q651.8 466.3 649.0 469.3 Q648.3 473.0 644.8 472.6 Q642.4 473.6 639.7 469.7 Q636.9 469.4 636.0 466.7 Q633.9 465.7 634.8 463.7 Q633.3 461.4 635.6 459.9 Q636.5 457.0 639.5 456.7 Q642.6 452.9 645.2 454.0 Q647.1 455.3 647.4 458.9 Q650.9 459.8 650.4 462.1Z"/>
</g>
<g fill="#f3f3f4" stroke="#c9c9cc" stroke-width="1.100">
<path d="M509 476 Q530 463 546 462.500 Q553 463 552 468 Q548 473 530 479 Q515 484 497 487 Q500 481 509 476Z"/>
<path d="M497 480 L540 478 M492 486.500 L530 484" fill="none" stroke="#d5d5d7"/>
<path d="M524 483 Q545 474 556 476 Q561 479 558 484 Q552 488 524 489Z"/>
<ellipse cx="549" cy="469" rx="7" ry="6.500"/>
</g>
<g stroke="none">
<path d="M629 466 Q638 452 648 447.500 Q652 452 649.500 457 Q654 461 651 466 Q654 470 649 474 Q640 476 630 471Z" fill="#dadadc"/>
<path d="M671 462 Q682 449 693 445.500 Q698 449 695 455 Q700 459 697 464 Q700 468 694 472 Q684 474 672 468Z" fill="#dadadc"/>
<path d="M694 476 Q704 463 716 461 Q719 470 717 480 Q718 487 712 489.500 Q702 490 695 482Z" fill="#dadadc"/>
</g>
<g fill="#f2f2f3" stroke="#d2d2d4" stroke-width="1">
<path d="M569 477.500 Q600 469 629.500 465 L631 471.500 Q600 476 573 483.500 Q567 482 569 477.500Z"/>
<path d="M620 481 Q648 470 671.500 461.500 L673 468.500 Q648 477 624 486.500Z"/>
<path d="M623 486 Q660 479 694.500 475.500 L695.500 482.500 Q660 485 626 489.500Z"/>
</g>
<g fill="#cfcfd1" stroke="none"><rect x="571" y="481" width="4" height="5" transform="rotate(-15 573 483)"/><rect x="610" y="481" width="4" height="5"/><rect x="620" y="482" width="4" height="6"/></g>
</g>
<!-- 12_shelves.svg -->
<g id="shelves" stroke="#000" stroke-width="1.2" stroke-linejoin="round">
  <!-- left shelf 1 -->
  <path d="M381 266.3 H546.5 V272.5 H381 Z" fill="#a9acb4"/>
  <path d="M381 266.3 H403 V272.5 H381Z" fill="#fff"/>
  <line x1="381" y1="269.4" x2="546" y2="269.4" stroke-width="0.9"/>
  <rect x="370.8" y="272.5" width="176" height="4.6" rx="1.5" fill="#c5c9d1"/>
  <!-- left shelf 2 -->
  <path d="M381 323 H546.5 L546.9 336.9 H374 Z" fill="#fff"/>
  <line x1="381" y1="327" x2="546" y2="327" stroke-width="0.9"/>
  <rect x="373.6" y="336.8" width="173.4" height="4" rx="1.5" fill="#c5c9d1"/>
  <!-- small brackets under left shelves -->
  <path d="M374 277.5 v5 h3.5 v-3" fill="#fff" stroke-width="1"/>
  <!-- right shelf 1 -->
  <path d="M547.5 231.9 H713.8 V242.6 H547.5 Z" fill="#fff"/>
  <line x1="547.5" y1="236.3" x2="713.8" y2="236.3" stroke-width="1.3"/>
  <rect x="547.5" y="238.6" width="166.3" height="4" fill="#c5c9d1"/>
  <!-- right shelf 2 -->
  <path d="M547.5 308.8 H713.8 L723.8 322.5 H547.5 Z" fill="#fff"/>
  <line x1="547.5" y1="312.5" x2="715" y2="312.5" stroke-width="0.9"/>
  <rect x="547.5" y="322.4" width="176.3" height="3.9" fill="#c5c9d1"/>
  <!-- big shelf / crisper cover -->
  <path d="M380.6 410.6 H715 L723 423.4 H371 Z" fill="#fff"/>
  <rect x="371" y="423.4" width="352" height="13.2" fill="#c5c9d1" stroke-width="1.5"/>
</g>

<!-- 13_items_upper.svg -->
<g id="items-upper" stroke="#000" stroke-width="1.3" stroke-linejoin="round" stroke-linecap="round">
  <!-- cups on left shelf 1 -->
  <g>
    <path d="M403.2 240.6 L407 271.4 Q416 273 426.5 271.4 L425.6 242" fill="#fff"/>
    <path d="M402.5 240.4 Q414 238.2 426 240.4" fill="none" stroke-width="2.2"/>
    <path d="M411 241.5 v7 q2 1.8 4.2 0 v-7" fill="#d9dce3" stroke-width="1"/>
    <path d="M424.6 241.8 L427.8 271.4 Q438 273 450 271.4 L453 242" fill="#fff"/>
    <path d="M423.8 241.6 Q438 239.2 453.6 241.8" fill="none" stroke-width="2.2"/>
    <path d="M439.5 242.5 v7 q2.2 1.8 4.4 0 v-7" fill="#d9dce3" stroke-width="1"/>
  </g>
  <!-- stacked bags on left shelf 2 -->
  <g stroke-width="1.4">
    <!-- lower bag -->
    <path d="M413.5 330 L419.5 324.5 Q433 326 446.500 324.800 L452.500 329 L490 322 Q493.500 324 492.500 327 Q491.500 330 489 331 Q476 335 461 335.400 L449 336 Q447.500 334.500 446 334.500 Q433 335.600 420 334Z" fill="#fff"/>
    <path d="M420 328.500 Q432 327.500 444 328 Q440 332 428 332 Q422 331 420 328.500Z" fill="#e3e5ea" stroke="none"/>
    <path d="M450 336 Q451.500 332.500 454 332 L458.500 332.500 Q460.500 334 461 335.400Z" fill="#c5c9d1"/>
    <path d="M467 330 L477 328 L477.500 329.500 L468.500 332Z" fill="#c5c9d1" stroke-width="1"/>
    <path d="M446.500 334.500 Q449 332 452.500 329" fill="none"/>
    <!-- top bag -->
    <path d="M413.500 321.800 L419.500 316.500 Q428 312 437 308.800 Q445 307.400 452.500 307.400 Q460 308.200 467.500 310.200 L483 315.300 Q487 313.200 490 313.800 Q492.500 315.500 492.300 318 Q492.300 320.500 490 322 L460 329.500 L452.500 329 Q451 326.500 446.500 324.800 Q433 326 419.500 324.500Z" fill="#fff"/>
    <path d="M421 320.500 Q430 316 442 315.500 Q450 316 446 319.500 Q434 322.500 424 322 Q420.500 321.500 421 320.500Z M438 312 Q446 309.500 456 311 Q450 313 440 313.500Z" fill="#e3e5ea" stroke="none"/>
    <path d="M450.300 324.500 Q455 321 461.500 319 L475 314.500" fill="none"/>
    <path d="M456.500 317 L464 314 L477.500 320.300 L469.500 323 L465 319 L461 318Z" fill="#c5c9d1" stroke-width="1.100"/>
    <path d="M451 325 L459 324.800 L460 327 L453 328.500Z" fill="#c5c9d1" stroke-width="1.100"/>
    <path d="M477 313.500 L483 315.300" fill="none" stroke-width="2"/>
  </g>
  <!-- containers on right shelf 1 -->
  <g>
    <path d="M621.6 220.4 L623 232 Q660 238.6 699.5 233 L700.4 220.4Z" fill="#c5c9d1"/>
    <path d="M657.8 205.4 L658.6 219 Q678 222.5 698 219.4 L698.6 205.4Z" fill="#d9dce3"/>
    <path d="M657.2 205.2 Q678 202.4 699 205.2" fill="none" stroke-width="2.2"/>
    <path d="M621 220.2 Q640 218.6 658 219.6 M698 219.8 L701 220.2" fill="none" stroke-width="2.2"/>
    <path d="M667.5 206 q0.8 5.4 3 5.6 h4.4 q2.2 -0.2 3 -5.6" fill="#fff" stroke-width="1.1"/>
    <path d="M640.6 220.6 q1 7.2 3.6 7.4 h9.6 q2.6 -0.2 3.6 -7.4" fill="#fff" stroke-width="1.1"/>
  </g>
  <!-- cups on right shelf 2 -->
  <g>
    <path d="M612.2 282.4 L616.6 311.6 Q626 315.4 636 311.6 L639.2 282.4" fill="#fff"/>
    <path d="M611.6 282.2 Q625 278.6 639.8 282.2" fill="none" stroke-width="2.1"/>
    <path d="M612.6 283 Q625 285.8 638.6 283" fill="none" stroke-width="0.9"/>
    <path d="M626.4 284.8 v7.2 q2.6 2 5.2 0 v-7.4" fill="#d9dce3" stroke-width="1"/>
    <path d="M642.4 286 L647 318 Q657 322.4 667.6 318 L671.4 286" fill="#fff"/>
    <path d="M641.8 285.8 Q656 282.2 672 285.8" fill="none" stroke-width="2.1"/>
    <path d="M642.8 286.6 Q656 289.6 670.8 286.6" fill="none" stroke-width="0.9"/>
    <path d="M649.6 288.6 v7.4 q2.6 2 5.2 0 v-7.6" fill="#d9dce3" stroke-width="1"/>
  </g>
  <!-- stacked boxes on big shelf -->
  <g>
    <path d="M394 402 Q392 402 392 404 V419.6 Q392 422 394.4 422 H477 Q479.4 422 479.4 419.6 V404 Q479.4 402 477.4 402Z" fill="#d9dce3"/>
    <path d="M396 374 Q393.4 374 393.2 376.6 L392.6 399.6 Q392.6 402 395 402 H476.8 Q479 402 479 399.6 L478.6 376.6 Q478.4 374 476 374Z" fill="#e6e8ec"/>
    <path d="M393.4 388.4 H431.4 q0.6 6.4 3 6.6 h5.4 q2.4 -0.2 3 -6.6 H478.8" fill="none" stroke-width="1.2"/>
    <path d="M393.6 376 Q393.8 374 396 374 H476 Q478.2 374 478.4 376 L478.8 388.4 H393.2Z" fill="#fff" stroke="none"/>
    <path d="M396 374 Q393.4 374 393.2 376.6 L392.6 399.6 Q392.6 402 395 402 H476.8 Q479 402 479 399.6 L478.6 376.6 Q478.4 374 476 374Z" fill="none"/>
    <path d="M393.4 388.4 H431.4 q0.6 6.4 3 6.6 h5.4 q2.4 -0.2 3 -6.6 H478.8" fill="#fff" stroke-width="1.2"/>
    <rect x="405.2" y="377.2" width="63" height="7.8" rx="1.2" fill="#e6e8ec" stroke-width="1.2"/>
    <line x1="405.6" y1="377.8" x2="467.8" y2="377.8" stroke-width="2.4"/>
    <path d="M392.4 408.4 H430.6 q0.6 5.8 3 6 h5.4 q2.4 -0.2 3 -6 H479.2" fill="none" stroke-width="1.2"/>
    <path d="M394 402 H477.4 Q479.4 402 479.4 404 V408.4 H442 q-0.6 5.8 -3 6 h-5.4 q-2.4 -0.2 -3 -6 H392 V404 Q392 402 394 402Z" fill="#e6e8ec" stroke="none"/>
    <path d="M392.4 408.4 H430.6 q0.6 5.8 3 6 h5.4 q2.4 -0.2 3 -6 H479.2" fill="none" stroke-width="1.2"/>
    <path d="M404 403.6 H468" fill="none" stroke="#8d9098" stroke-width="1.6"/>
    <path d="M394 402 Q392 402 392 404 V419.6 Q392 422 394.4 422 H477 Q479.4 422 479.4 419.6 V404 Q479.4 402 477.4 402Z" fill="none"/>
  </g>
</g>

<!-- 14_cake.svg -->
<g id="cake" stroke-linejoin="round" stroke-linecap="round">
<ellipse cx="600.3" cy="410.4" rx="106" ry="11" fill="#fff" stroke="#000" stroke-width="1.300"/>
<path d="M495.500 408.500 Q600 430.500 705 408.500" fill="none" stroke="#000" stroke-width="1"/>
<g stroke="#97999e" stroke-width="1.100">
<path d="M512.9 377.500 V410.600 Q601.1 421.2 689.3 410.6 V377.500" fill="#fff"/>
<path d="M512.9 380.700 Q601.1 388.5 689.3 380.7 V387.200 Q601.1 395.4 512.9 387.2Z" fill="#c9ccd4"/>
<path d="M512.9 405.300 Q601.1 413.5 689.3 405.3 V410.600 Q601.1 421.2 512.9 410.6Z" fill="#c9ccd4"/>
<ellipse cx="601.1" cy="377.500" rx="88.2" ry="6.400" fill="#fff"/>
<path d="M512.9 378.6 Q513.0 380.6 513.1 380.5 Q513.5 378.9 513.8 379.5 Q514.4 381.5 514.9 381.4 Q515.7 379.8 516.5 380.4 Q517.5 382.4 518.5 382.2 Q519.7 380.6 520.9 381.3 Q522.3 383.3 523.7 383.1 Q525.3 381.5 526.9 382.1 Q528.7 384.0 530.5 383.8 Q532.5 382.2 534.4 382.8 Q536.6 384.8 538.7 384.5 Q541.0 382.9 543.3 383.4 Q545.8 385.4 548.2 385.1 Q550.8 383.5 553.4 384.0 Q556.1 385.9 558.8 385.6 Q561.6 383.9 564.5 384.4 Q567.4 386.3 570.3 386.0 Q573.3 384.3 576.3 384.7 Q579.3 386.6 582.4 386.3 Q585.4 384.5 588.5 384.9 Q591.7 386.8 594.8 386.4 Q598.0 384.6 601.1 385.0 Q604.2 386.8 607.4 386.4 Q610.5 384.6 613.7 384.9 Q616.8 386.7 619.8 386.3 Q622.9 384.4 625.9 384.7 Q628.9 386.5 631.9 386.0 Q634.8 384.1 637.7 384.4 Q640.6 386.1 643.4 385.6 Q646.1 383.7 648.8 384.0 Q651.4 385.7 654.0 385.1 Q656.4 383.2 658.9 383.4 Q661.2 385.1 663.5 384.5 Q665.6 382.6 667.8 382.8 Q669.7 384.4 671.7 383.8 Q673.5 381.8 675.3 382.1 Q676.9 383.7 678.5 383.1 Q679.9 381.1 681.3 381.3 Q682.5 382.8 683.7 382.2 Q684.7 380.2 685.7 380.4 Q686.5 382.0 687.3 381.4 Q687.8 379.3 688.4 379.5 Q688.7 381.1 689.1 380.5 Q689.2 378.4 689.3 378.6" fill="none" stroke-width="1.300"/>
<path d="M515.9 376.6 L516.1 377.1 L516.8 375.7 L517.8 376.2 L519.4 374.9 L521.3 375.4 L523.6 374.1 L526.3 374.6 L529.4 373.4 L532.9 373.9 L536.7 372.7 L540.9 373.3 L545.3 372.1 L550.0 372.7 L555.0 371.6 L560.3 372.2 L565.7 371.1 L571.3 371.9 L577.1 370.8 L583.0 371.6 L589.0 370.7 L595.0 371.5 L601.1 370.6 L607.2 371.5 L613.2 370.7 L619.2 371.6 L625.1 370.8 L630.9 371.9 L636.5 371.1 L641.9 372.2 L647.2 371.6 L652.2 372.7 L656.9 372.1 L661.3 373.3 L665.5 372.7 L669.3 373.9 L672.8 373.4 L675.9 374.6 L678.6 374.1 L680.9 375.4 L682.8 374.9 L684.4 376.2 L685.4 375.7 L686.1 377.1 L686.3 376.6" fill="none" stroke="#b4b6ba" stroke-width="1"/>
<g stroke-width="0.900">
<line x1="604.0" y1="374.5" x2="517.6" y2="381.0"/>
<line x1="604.0" y1="374.5" x2="540.0" y2="383.4"/>
<line x1="604.0" y1="374.5" x2="580.3" y2="385.8"/>
<line x1="604.0" y1="374.5" x2="622.6" y2="385.6"/>
<line x1="604.0" y1="374.5" x2="661.7" y2="383.2"/>
<line x1="604.0" y1="374.5" x2="686.0" y2="380.2"/>
<line x1="604.0" y1="374.5" x2="530.0" y2="373.5"/>
<line x1="604.0" y1="374.5" x2="562.0" y2="372.0"/>
<line x1="604.0" y1="374.5" x2="640.0" y2="372.0"/>
<line x1="604.0" y1="374.5" x2="676.0" y2="373.8"/>
<line x1="604.0" y1="374.5" x2="520.0" y2="377.0"/>
<line x1="604.0" y1="374.5" x2="684.0" y2="377.0"/>
</g>
<line x1="517.6" y1="381.2" x2="517.6" y2="410.7"/>
<line x1="540.0" y1="382.6" x2="540.0" y2="412.1"/>
<line x1="580.3" y1="384.4" x2="580.3" y2="413.9"/>
<line x1="622.6" y1="384.4" x2="622.6" y2="413.9"/>
<line x1="661.7" y1="382.8" x2="661.7" y2="412.3"/>
<line x1="686.0" y1="381.0" x2="686.0" y2="410.5"/>
<path d="M512.9 410.1 L516.9 411.6 L520.9 411.0 L524.9 412.4 L528.9 411.9 L532.9 413.2 L537.0 412.6 L541.0 413.9 L545.0 413.3 L549.0 414.5 L553.0 413.8 L557.0 415.1 L561.0 414.3 L565.0 415.5 L569.0 414.7 L573.0 415.9 L577.0 415.0 L581.1 416.1 L585.1 415.2 L589.1 416.3 L593.1 415.4 L597.1 416.4 L601.1 415.4 L605.1 416.4 L609.1 415.4 L613.1 416.3 L617.1 415.2 L621.1 416.1 L625.2 415.0 L629.2 415.9 L633.2 414.7 L637.2 415.5 L641.2 414.3 L645.2 415.1 L649.2 413.8 L653.2 414.5 L657.2 413.3 L661.2 413.9 L665.2 412.6 L669.3 413.2 L673.3 411.9 L677.3 412.4 L681.3 411.0 L685.3 411.6 L689.3 410.1" fill="none" stroke-width="1.200"/>
</g>
<path d="M501.300 405.500 V380 Q501.300 372.500 520 369.600 Q555 364.600 595 363.700 Q598.400 363.400 598 361.600 Q596.800 359.300 604.800 359 Q612.800 359.300 611.600 361.600 Q611.200 363.400 614.600 363.700 Q652 364.600 682 369.600 Q700.600 372.500 700.600 380 V405.500" fill="none" stroke="#000" stroke-width="1.400"/>
<path d="M595 363.700 q-3.800 1.400 -5.600 3.200 M614.600 363.700 q3.800 1.400 5.600 3.200" fill="none" stroke="#000" stroke-width="1.400"/>
</g>
<!-- 16_crisper_lines.svg -->
<g id="crisper-lines" fill="none" stroke="#000" stroke-linejoin="round">
  <line x1="371" y1="436" x2="371" y2="490" stroke-width="1.4"/>
  <line x1="717.6" y1="437" x2="717.6" y2="489.4" stroke="#aaa" stroke-width="1"/>
  <line x1="379" y1="437" x2="379" y2="489" stroke="#c8c8c8" stroke-width="1"/>
  <!-- handle scoop -->
  <path d="M372 489.400 H392 C397 489.400 398 478 404 478 H689 C695 478 696 489.400 701.600 489.400 H719" stroke-width="1.500"/>
  <path d="M396 489.400 C400.500 488 401.500 480.500 405.500 479.600" stroke-width="1.100"/>
  <path d="M697.400 489.400 C693 488 692 480.500 688 479.600" stroke-width="1.100"/>
  <path d="M402 478 H690 V489 H396Z" fill="#fff" fill-opacity="0.550" stroke="none"/>
  <line x1="372" y1="490.800" x2="720" y2="490.800" stroke-width="1.500"/>
  <line x1="363.500" y1="502.600" x2="731.500" y2="502.600" stroke-width="2"/>
  <line x1="361" y1="507.600" x2="736" y2="507.600" stroke="#555" stroke-width="1.500"/>
</g>

<!-- 20_cabinet_lower.svg -->
<g id="cab-lower" stroke-linejoin="round">
<rect x="341.200" y="526" width="414.700" height="436.500" fill="#fff"/>
<g fill="none" stroke="#c8c8cb" stroke-width="1.300">
<line x1="352.500" y1="655" x2="352.500" y2="960"/>
<line x1="741.200" y1="655" x2="741.200" y2="960"/>
<path d="M358.800 660 V915 Q358.800 920 364 920 H730 Q735 920 735 915 V660"/>
<path d="M372.600 672 V911 Q372.600 916 378 916 H717 Q722 916 722 911 V672"/>
<line x1="352.500" y1="935.600" x2="741.200" y2="935.600"/>
<line x1="380" y1="672" x2="380" y2="790"/>
<line x1="721" y1="672" x2="721" y2="790"/>
<rect x="373.200" y="672.500" width="91.200" height="53.800"/>
<rect x="385.600" y="681.300" width="28.800" height="8.100" rx="0.800"/>
<rect x="421.900" y="681.300" width="28.800" height="8.100" rx="0.800"/>
<line x1="373.200" y1="701.900" x2="464.400" y2="701.900"/>
</g>
<g fill="#f6f6f7" stroke="#d2d2d5" stroke-width="1.100" stroke-linejoin="round">
<path d="M470 700.700 H720 V726.400 H470Z" fill="#fafafb"/>
<path d="M498 688.800 L503 675 Q545 671 592 675 L586 688.800Z"/>
<path d="M596 688.800 L600 675 Q650 670 697 675.500 L703 688.800Z"/>
<path d="M478 686 l8 -10 h10 l-4 12Z M716 686 l-14 -12 h-8 l10 14Z" fill="#fff"/>
<path d="M515 686 q2 -8 12 -8 q4 -4 12 -2 q8 -3 14 2 q10 -2 14 4 q6 2 6 6" fill="none"/>
<path d="M612 686 q2 -8 12 -8 q6 -4 14 -2 q10 -3 16 2 q12 -2 16 4 q8 2 8 6" fill="none"/>
<path d="M496 701 H586 L572 723 Q530 727 486 722Z"/>
<path d="M592 701 H700 L706 722 Q650 729 580 723Z"/>
<path d="M500 701 L489 722 M505 701 L494 722.500 M597 701 L585 723 M602 701 L590 723.500" fill="none"/>
<path d="M512 703 q16 12 40 6 q14 8 26 -4 M520 716 q20 6 44 -2 M610 703 q20 12 44 6 q16 6 30 -4 M620 717 q24 6 54 -2" fill="none" stroke="#dededf"/>
<path d="M401 739.500 L400.600 729.400 H500 L505.500 739.500Z"/>
<path d="M432 741 A31.500 6.800 0 0 1 495 741" fill="#efeff0"/>
<path d="M440 741 A23 4.600 0 0 1 487 741" fill="none"/>
<path d="M403.500 739 l1 -7.500 h14 l3 7.500 M407 738 l8 -5" fill="none" stroke="#c9c9cc" stroke-width="1.300"/>
<path d="M568 739.500 V722 L672 721.500 L677.500 739.500Z"/>
<ellipse cx="631" cy="733.800" rx="35" ry="7.600" fill="#efeff0"/>
<ellipse cx="631" cy="734" rx="27" ry="5" fill="none"/>
<path d="M571 739 l1 -9 h15 l4 9 M575 738 l9 -6" fill="none" stroke="#c9c9cc" stroke-width="1.300"/>
<path d="M683 739 l-5 -10 h6 l6 10Z" fill="#fff"/>
<path d="M376 741 l3 -12 h8 l-6 12Z M719 741 l-3 -12 h-8 l6 12Z" fill="#fff"/>
<path d="M400.600 753 H512 L522.400 766 H400.600Z"/>
<path d="M431 753 A32 9.500 0 0 0 495 753Z" fill="#efeff0"/>
<path d="M400.600 766 H522.400 V777.500 H400.600Z" fill="#f2f2f3"/>
<path d="M406 762 v-7.500 h7 q4 0.500 4 3 q0 2.500 -4 3 h-7" fill="none" stroke="#c9c9cc" stroke-width="1.400"/>
<path d="M384 753 L388 778 M530 753 V778 H392" fill="none" stroke="#dcdcde"/>
<path d="M568 753 H688.700 L690 769.500 H569Z"/>
<path d="M581.800 769.500 H702.600 V779 H581.800Z" fill="#f2f2f3"/>
</g>
<g fill="#ececee" stroke="#c4c4c7" stroke-width="1.100">
<rect x="468.800" y="688.800" width="251.200" height="11.200"/>
<rect x="375.600" y="741.300" width="344.400" height="11.200"/>
</g>
<g fill="none" stroke="#c8c8cb" stroke-width="1.300">
<line x1="372.600" y1="728" x2="720" y2="728"/>
<line x1="545" y1="728" x2="545" y2="741"/><line x1="549" y1="728" x2="549" y2="741"/>
<line x1="380" y1="783.800" x2="720" y2="783.800"/>
<path d="M391.300 790 H445 Q447.500 790 447.500 792.500 V803.500 Q447.500 806.200 450 806.200 H643.500 Q646 806.200 646 803.500 V792.500 Q646 790 648.500 790 H701"/>
<line x1="447.500" y1="797.500" x2="646" y2="797.500"/>
<path d="M391.300 790 L395 893 Q395 897.500 400 897.500 H694 Q699.400 897.500 699.400 893 L701 790"/>
<rect x="532.500" y="793.800" width="29.500" height="19.200" rx="1.500" fill="#fff"/>
<path d="M543.500 784 V794 M550.500 784 V794" />
<line x1="544.400" y1="813" x2="544.400" y2="897"/><line x1="549.400" y1="813" x2="549.400" y2="897"/>
<path d="M373.500 790 l9 -8 l8 8 v34 l-9 8 h-8Z M716 790 l-9 -8 l-8 8 v34 l9 8 h8Z"/>
<line x1="403.800" y1="913" x2="690" y2="913"/>
<path d="M403.800 913 l6 -15 M690 913 l-6 -15 M377 910 l17 -30 M718 910 l-14 -30"/>
</g>
<g fill="#f7f7f8" stroke="#d2d2d5" stroke-width="1.100" stroke-linejoin="round">
<path d="M407 866 Q470 872 536 865 L534 886.500 Q500 890 470 888.500 Q430 890 401.500 886.500Z"/>
<path d="M430 871 q10 4 22 2 q20 8 50 6 q10 4 18 -2 q6 -8 -4 -12 q-12 -2 -20 4 q-30 -2 -50 -4Z" fill="#f0f0f1"/>
<path d="M412 822 Q435 817 454 816 Q485 815 508 820 Q522 824 529 830 L540 863 Q505 868 470 870.500 Q430 870 400 866.600Z"/>
<path d="M412 822 L400 866.600 M417 821.500 L405.500 867" fill="none"/>
<path d="M412 843 Q420 832 445 829 Q452 822 462 821 L466 827 Q490 826 506 831 Q512 822 520 820 Q524 828 531 839 Q520 838 508 842 Q490 850 468 851 Q462 856 452 857 L450 851 Q425 853 412 843Z" fill="#efeff0"/>
<path d="M436 833 q8 8 -2 16 M470 826 h10 M418 841 a1 1 0 1 0 2 0" fill="none"/>
<g fill="#d9d9db" stroke="none"><circle cx="450" cy="833" r="0.600"/><circle cx="458" cy="831" r="0.600"/><circle cx="466" cy="834" r="0.600"/><circle cx="474" cy="832" r="0.600"/><circle cx="482" cy="835" r="0.600"/><circle cx="490" cy="833" r="0.600"/><circle cx="462" cy="838" r="0.600"/><circle cx="478" cy="838" r="0.600"/><circle cx="454" cy="838" r="0.600"/><circle cx="470" cy="841" r="0.600"/></g>
<path d="M572 840 L579 841 L566 879.500 H557Z" fill="#fff"/>
<path d="M579 841 Q620 850 668 866 L664 880 H566Z"/>
<path d="M571.400 858.400 Q620 862 662.800 872.500 L661.600 879.500 H571.400Z" fill="#e7e7e9"/>
<path d="M576 866 q14 -8 28 0 q-14 8 -28 0 M582 866 q8 -4 16 0 M612 868 q14 -6 26 2 M620 870 q8 -2 12 2 M600 876 q20 -6 50 0" fill="none" stroke="#dadadc"/>
<path d="M603 810.400 L610 812 L581 856 L573.700 853.700Z" fill="#fff"/>
<path d="M610 812 Q650 818 681.500 830.300 L693 872.500 Q676 877 658 877 Q615 866 581 856Z"/>
<path d="M599 827 Q640 826 681.500 835 Q686 850 684 865.500 Q640 860 594.800 849 Q594 838 599 827Z" fill="#e7e7e9"/>
<path d="M596 843 Q640 852 684 859" fill="none"/>
<path d="M604 832 q12 10 26 0 M610 830 q6 6 14 0 M634 834 q14 12 28 2 M640 833 q8 8 18 2 M664 840 q8 8 16 2 M600 838 q20 12 40 4 M646 846 q14 6 30 2" fill="none" stroke="#dadadc"/>
</g>
<g fill="none" stroke="#c9c9cc" stroke-width="1.100">
<rect x="377" y="570.500" width="342.500" height="52" stroke="#dadadc"/>
<line x1="377" y1="577" x2="719.500" y2="577"/>
<path d="M378 612 L389 584 H707 L718 612" fill="#f3f3f4"/>
<line x1="384" y1="605" x2="712" y2="605"/>
<line x1="366" y1="615" x2="731" y2="615"/><line x1="366" y1="618.300" x2="731" y2="618.300"/>
</g>
<g stroke="#b4b4b8" stroke-width="1.350">
<path d="M401.0 605 C393.0 592 402.0 577.500 415.0 577.500 C428.0 577.500 437.0 592 429.0 605Z" fill="#f6f6f7"/>
<path d="M404.0 604 C399.0 592 406.0 581.500 415.0 581.500 C424.0 581.500 431.0 592 426.0 604" fill="none" stroke="#e3e3e5"/>
<circle cx="412.5" cy="598.600" r="7.600" fill="#e8e8eb"/>
<path d="M445.2 605 C437.2 592 446.2 577.500 459.2 577.500 C472.2 577.500 481.2 592 473.2 605Z" fill="#f6f6f7"/>
<path d="M448.2 604 C443.2 592 450.2 581.500 459.2 581.500 C468.2 581.500 475.2 592 470.2 604" fill="none" stroke="#e3e3e5"/>
<circle cx="456.7" cy="598.600" r="7.600" fill="#e8e8eb"/>
<path d="M489.4 605 C481.4 592 490.4 577.500 503.4 577.500 C516.4 577.500 525.4 592 517.4 605Z" fill="#f6f6f7"/>
<path d="M492.4 604 C487.4 592 494.4 581.500 503.4 581.500 C512.4 581.500 519.4 592 514.4 604" fill="none" stroke="#e3e3e5"/>
<circle cx="500.9" cy="598.600" r="7.600" fill="#e8e8eb"/>
<path d="M533.6 605 C525.6 592 534.6 577.500 547.6 577.500 C560.6 577.500 569.6 592 561.6 605Z" fill="#f6f6f7"/>
<path d="M536.6 604 C531.6 592 538.6 581.500 547.6 581.500 C556.6 581.500 563.6 592 558.6 604" fill="none" stroke="#e3e3e5"/>
<circle cx="545.1" cy="598.600" r="7.600" fill="#e8e8eb"/>
<path d="M577.8 605 C569.8 592 578.8 577.500 591.8 577.500 C604.8 577.500 613.8 592 605.8 605Z" fill="#f6f6f7"/>
<path d="M580.8 604 C575.8 592 582.8 581.500 591.8 581.500 C600.8 581.500 607.8 592 602.8 604" fill="none" stroke="#e3e3e5"/>
<circle cx="589.3" cy="598.600" r="7.600" fill="#e8e8eb"/>
<path d="M622.0 605 C614.0 592 623.0 577.500 636.0 577.500 C649.0 577.500 658.0 592 650.0 605Z" fill="#f6f6f7"/>
<path d="M625.0 604 C620.0 592 627.0 581.500 636.0 581.500 C645.0 581.500 652.0 592 647.0 604" fill="none" stroke="#e3e3e5"/>
<circle cx="633.5" cy="598.600" r="7.600" fill="#e8e8eb"/>
<path d="M666.2 605 C658.2 592 667.2 577.500 680.2 577.500 C693.2 577.500 702.2 592 694.2 605Z" fill="#f6f6f7"/>
<path d="M669.2 604 C664.2 592 671.2 581.500 680.2 581.500 C689.2 581.500 696.2 592 691.2 604" fill="none" stroke="#e3e3e5"/>
<circle cx="677.7" cy="598.600" r="7.600" fill="#e8e8eb"/>
</g>
<path d="M370 528 H725 L728.800 541.300 H366.900Z" fill="#e0e3e9"/>
<path d="M369.500 528.500 L366.900 541.300 M725 528.500 L728.800 541.300" fill="none" stroke="#000" stroke-width="2"/>
<line x1="366.900" y1="541.300" x2="728.800" y2="541.300" stroke="#333" stroke-width="1.800"/>
<g stroke="#8b8e95" stroke-width="0.900"><line x1="384" y1="536.600" x2="398" y2="536.600"/><line x1="409" y1="536.600" x2="415" y2="536.600"/><line x1="425" y1="536.600" x2="432" y2="536.600"/><line x1="452" y1="536.600" x2="461" y2="536.600"/><line x1="469" y1="536.600" x2="481" y2="536.600"/><line x1="489" y1="536.600" x2="503" y2="536.600"/><line x1="492" y1="532.600" x2="502" y2="532.600"/></g>
<rect x="365.600" y="568" width="365.700" height="56.400" fill="none" stroke="#000" stroke-width="1.600"/>
<path d="M371.300 653.500 H725 L728.800 672.500 H366.900Z" fill="#dcdfe6"/>
<path d="M371.300 653.500 L366.900 672.500 H728.800 L725 653.500" fill="none" stroke="#000" stroke-width="1.400"/>
<line x1="366.900" y1="672.500" x2="728.800" y2="672.500" stroke="#000" stroke-width="1.800"/>
<g fill="none" stroke="#000" stroke-width="1.200"><path d="M343.500 529.600 H368.500 M343.500 654.800 H370 M727 654.800 H753.500 M728 529.600 H753.500" stroke-width="1.800"/><path d="M352.500 519 V526 M741.300 516 V526" /></g>
<g fill="none" stroke="#000" stroke-width="3.600" stroke-linecap="round">
<path d="M341.300 520 V959.500 Q341.300 962.500 344.300 962.500 H752.900 Q755.900 962.500 755.900 959.500 V519"/>
<line x1="341.300" y1="526.300" x2="755.900" y2="526.300" stroke-linecap="butt"/>
<line x1="341.300" y1="651.300" x2="755.900" y2="651.300" stroke-linecap="butt"/>
</g>
<g fill="#fff" stroke="#000" stroke-width="2.200"><path d="M347.500 964.500 V968 Q347.500 969.400 349 969.400 H361.500 Q363 969.400 363 968 V964.500"/><path d="M730.600 964.500 V968 Q730.600 969.400 732.100 969.400 H745.400 Q746.900 969.400 746.900 968 V964.500"/></g>
</g>
<!-- 30_door_left.svg -->
<g id="door-left" stroke-linejoin="round" stroke-linecap="butt">
  <!-- door body -->
  <path d="M170 119 L192.500 117.500 L358.500 126.500 V516 L192.500 533 L169.500 529.500 V491 H175 V155 H170Z" fill="#fff"/>
  <!-- grey fills on outer edge -->
  <path d="M171.500 120.500 L189.500 119.300 V154 H171.500Z" fill="#dcdfe6"/>
  <rect x="176.500" y="155" width="7.500" height="338" fill="#c5c9d1"/>
  <rect x="185.200" y="155" width="4.800" height="340" fill="#e9ebef"/>
  <path d="M172 494.500 H190 V531 L171 528.500Z" fill="#dcdfe6"/>
  <!-- top grey panel -->
  <path d="M238 121.200 L356.500 127.400 V144.200 L238 139Z" fill="#ecedf1"/>
  <path d="M238 121.200 V139 L356.500 144.200" fill="none" stroke="#000" stroke-width="1.300"/>
  <!-- liner strip -->
  <path d="M209.500 173 Q209.500 168 214 167.800 L215 167.800 V516 Q210 515 209.500 511Z" fill="#e6e8ed"/>
  <!-- thin verticals -->
  <g fill="none" stroke="#000" stroke-width="1.200">
    <line x1="184.400" y1="155" x2="184.400" y2="494.400"/>
    <line x1="193.600" y1="118.500" x2="193.600" y2="532"/>
    <path d="M208.800 512 V173.500 Q208.800 167.600 214.500 167.600 L344 170.800 Q350 171 350 177 V502.500"/>
    <path d="M208.800 512 Q208.800 518.500 215 518 L350 502.500"/>
    <path d="M221.500 508 V187 Q221.500 182 226.500 182.100 L321.500 185.600 Q326.600 185.800 326.600 191 V500"/>
    <line x1="345" y1="175" x2="345" y2="503" />
    <path d="M330 184.500 L338 181.800" stroke-width="1"/>
    <path d="M184.400 494.400 H172.500"/>
  </g>
  <line x1="358.500" y1="126" x2="358.500" y2="516" stroke="#000" stroke-width="3.200"/>
</g>

<!-- 31_door_left_items.svg -->
<g id="door-left-items" stroke="#000" stroke-width="1.300" stroke-linejoin="round" stroke-linecap="round">
<path d="M246.4 205.200 Q239.4 207 238.9 214 V238 Q238.9 243 248.4 243 H267.9 Q277.4 243 277.4 238 V214 Q276.9 207 269.9 205.200Z" fill="#fff"/><rect x="240.4" y="226" width="35.5" height="16" rx="4" fill="#e3e5e9" stroke="none"/><path d="M262.9 206 L270.9 214 V240 H275.4 V214 L267.9 206Z" fill="#c5c9d1" stroke="none"/><rect x="244.4" y="199.400" width="27.5" height="5.800" rx="2" fill="#c3c7cf"/><line x1="246.4" y1="201" x2="269.9" y2="201" stroke="#e9ebef" stroke-width="1.600"/>
<path d="M293.0 205.200 Q286.0 207 285.5 214 V238 Q285.5 243 295.0 243 H313.5 Q323.0 243 323.0 238 V214 Q322.5 207 315.5 205.200Z" fill="#fff"/><rect x="287.0" y="226" width="34.5" height="16" rx="4" fill="#e3e5e9" stroke="none"/><path d="M308.5 206 L316.5 214 V240 H321.0 V214 L313.5 206Z" fill="#c5c9d1" stroke="none"/><rect x="291.0" y="199.400" width="26.5" height="5.800" rx="2" fill="#c3c7cf"/><line x1="293.0" y1="201" x2="315.5" y2="201" stroke="#e9ebef" stroke-width="1.600"/>
<path d="M322.6 205.200 Q315.6 207 315.1 214 V238 Q315.1 243 324.6 243 H343.5 Q353.0 243 353.0 238 V214 Q352.5 207 345.5 205.200Z" fill="#fff"/><rect x="316.6" y="226" width="34.9" height="16" rx="4" fill="#e3e5e9" stroke="none"/><path d="M338.5 206 L346.5 214 V240 H351.0 V214 L343.5 206Z" fill="#c5c9d1" stroke="none"/><rect x="320.6" y="199.400" width="26.9" height="5.800" rx="2" fill="#c3c7cf"/><line x1="322.6" y1="201" x2="345.5" y2="201" stroke="#e9ebef" stroke-width="1.600"/>
<path d="M219.800 228 H373.800 V244.500 L219.800 245.600Z" fill="#fff" fill-opacity="0.740"/>
<path d="M219.800 215 L373.800 214.400 V228 H219.800Z" fill="#c5c9d1"/>
<path d="M219.800 228 H373.800 M219.800 215 V245.600 L373.800 244.500 V214.400 M267 215 V245.400" fill="none"/>
<path d="M219.800 332.500 L224 330.400 L331 327 L373 330 L267.500 335Z" fill="#f3f4f6" stroke-width="1.100"/>
<path d="M246.500 303 Q236.500 307 236.300 316 V354 Q236.300 361.500 246 361.500 H285 Q294.400 361.500 294.400 354 V316 Q294.200 307 284.500 303Z" fill="#fff"/>
<path d="M262 304.500 Q280 305 286 311 Q290 316 282 319.500 L258 321 Q251.500 321.500 251.500 328 V360 H287 Q293 360 293 354 V315 Q292.500 308 284.500 304Z" fill="#c5c9d1" stroke="none"/>
<path d="M253.500 327 Q254 323 259 322.600 L266 322 V360 H253.500Z" fill="#d9dce3" stroke="none"/>
<path d="M246.500 303 Q236.500 307 236.300 316 V354 Q236.300 361.500 246 361.500 H285 Q294.400 361.500 294.400 354 V316 Q294.200 307 284.500 303Z" fill="none"/>
<path d="M243.800 297.500 V302 Q265 308.500 287 302 V297.500" fill="#d9dce3"/>
<ellipse cx="265.400" cy="297.300" rx="21.600" ry="4.700" fill="#d9dce3"/>
<ellipse cx="265.400" cy="297.500" rx="18.500" ry="3.200" fill="#e9ebef" stroke="none"/>
<path d="M303 328 L316 322 Q326 324 334 330 L330 333 H306Z" fill="#fff"/>
<path d="M297.600 323.500 Q302 319 309.500 318.600 L313.500 326.500 Q308 327.500 302.500 331Z" fill="#222"/>
<path d="M219.800 345.600 L267.500 348 L373 344.400 V360 L267.500 366.300 L219.800 363.800Z" fill="#fff" fill-opacity="0.740"/>
<path d="M219.800 332.500 L267.500 335 L373 330 V344.400 L267.500 348 L219.800 345.600Z" fill="#c5c9d1"/>
<path d="M219.800 332.500 V363.800 L267.500 366.300 L373 360 V330 M267.500 335 V366.300 M219.800 345.600 L267.500 348 L373 344.400" fill="none"/>
<path d="M300 348 Q318 362 348 353 Q356 350 360 346 M320 347 Q326 354 322 358" fill="none" stroke="#bbb" stroke-width="1"/>
<path d="M248 431.300 L258 415.500 L277 414 L286.300 431.300 V500 H248Z" fill="#e6e8ec"/>
<path d="M248 431.300 L258 415.500 L277 414 L286.300 431.300 L267 434.500Z" fill="#fff"/>
<path d="M248 433 L267 434.500 V500 H248Z" fill="#d3d6dd" stroke="none"/>
<path d="M258 415.500 L267 434.500 M248 431.300 L258 415.500 L277 414 L286.300 431.300 V500 M248 431.300 V500 M258 415.500 L258.500 412 L276.500 410.500 L277 414" fill="none"/>
<circle cx="271.800" cy="423.500" r="3.400" fill="#fff" stroke-width="1.500"/>
<path d="M295.7 380.4 V388.4 Q295.2 404.4 289.2 416.4 Q284.4 426.4 284.4 438.4 V497.0 Q284.4 504.0 292.2 504.0 H312.2 Q320.0 504.0 320.0 497.0 V438.4 Q320.0 426.4 315.2 416.4 Q309.2 404.4 308.7 388.4 V380.4Z" fill="#e3e5ea"/><path d="M301.2 394.4 Q303.2 410.4 308.2 420.4 Q312.2 428.4 312.2 438.4 V498.0 H318.7 V438.4 Q318.7 427.4 308.2 406.4Z" fill="#f6f7f9" stroke="none"/><rect x="293.7" y="374.4" width="17" height="6.600" rx="2.400" fill="#b9bcc4"/><ellipse cx="302.2" cy="376.6" rx="6.500" ry="1.600" fill="#dcdfe6" stroke="#777" stroke-width="0.700"/>
<path d="M340.0 378.0 V386.0 Q339.5 402.0 333.5 414.0 Q328.7 424.0 328.7 436.0 V490.5 Q328.7 497.5 336.5 497.5 H356.5 Q364.3 497.5 364.3 490.5 V436.0 Q364.3 424.0 359.5 414.0 Q353.5 402.0 353.0 386.0 V378.0Z" fill="#c5c9d1"/><path d="M345.5 392.0 Q347.5 408.0 352.5 418.0 Q356.5 426.0 356.5 436.0 V491.5 H363.0 V436.0 Q363.0 425.0 352.5 404.0Z" fill="#e3e5ea" stroke="none"/><rect x="338.0" y="372.0" width="17" height="6.600" rx="2.400" fill="#b9bcc4"/><ellipse cx="346.5" cy="374.2" rx="6.500" ry="1.600" fill="#dcdfe6" stroke="#777" stroke-width="0.700"/>
<path d="M222 462.500 V458.800 L247.500 456 M375.600 456.300 L368 454.500 L364 456.500" fill="none" stroke-width="1.200"/>
<path d="M222 476.300 L271.300 480.300 L375.600 471.900 V498.800 L271.300 510 L222 507.500Z" fill="#fff" fill-opacity="0.740"/>
<path d="M222 462.500 L271.300 464.400 L375.600 456.300 V471.900 L271.300 480.300 L222 476.300Z" fill="#c5c9d1"/>
<path d="M222 462.500 V507.500 L271.300 510 L375.600 498.800 V456.300 M271.300 464.400 V510 M222 476.300 L271.300 480.300 L375.600 471.900" fill="none" stroke-width="1.200"/>
<path d="M222 462.500 L271.300 464.400 L375.600 456.300" fill="none" stroke-width="1.800"/>
</g>
<g fill="none" stroke="#000" stroke-width="3.200" stroke-linejoin="round">
<path d="M170 119 L192.500 117.500 L358.500 126.500"/>
<path d="M170 119 V155 H184.500"/>
<path d="M175 155 V491 H169.500 V529.500 L192.500 533 L358.500 516 V500"/>
</g>
<!-- 40_door_right.svg -->
<g id="door-right" stroke-linejoin="round" stroke-linecap="butt">
  <path d="M738.800 126.300 L903.800 118 L927.500 119.400 V153.800 L922 154.400 V492.500 L928 493 V528 L905 531.300 L738.800 513.800Z" fill="#fff"/>
  <!-- grey fills outer edge -->
  <path d="M908 119.600 L926 120.600 V152.800 H908Z" fill="#dcdfe6"/>
  <rect x="913.500" y="155" width="7.500" height="338" fill="#c5c9d1"/>
  <rect x="907.500" y="155" width="4" height="338" fill="#e9ebef"/>
  <path d="M905 494.500 H926.500 V527 L906 530Z" fill="#dcdfe6"/>
  <!-- top grey panel -->
  <path d="M740.600 127.600 L861.300 121.400 V139.400 L740.600 143.800Z" fill="#ecedf1"/>
  <path d="M861.300 121.400 V139.400 L740.600 143.800" fill="none" stroke="#000" stroke-width="1.300"/>
  <g fill="none" stroke="#000" stroke-width="1.200">
    <line x1="904" y1="118.500" x2="904" y2="530.500"/>
    <line x1="912.800" y1="154.400" x2="912.800" y2="494.400" stroke-width="1.800"/>
    <path d="M912.800 494.400 H927"/>
    <!-- liner outer -->
    <path d="M746.800 504 V179.500 Q746.800 173.600 752.500 173.400 L880 167.600 Q888 167.400 889 172" stroke="#333"/>
    <path d="M752 504.500 V186.500 Q752 181.400 757 181.100 L865 175.600"/>
    <path d="M770 508 V191.500 Q770 186.500 775 186.300 L865 181.900"/>
    <path d="M756 178.600 L766 182.600" stroke-width="1"/>
    <path d="M738.800 502.500 L866 516"/>
  </g>
  <line x1="738.800" y1="126" x2="738.800" y2="514" stroke="#000" stroke-width="3.200"/>
  <!-- anti-condensation column -->
  <path d="M865.600 171.300 H890.600 V518.800 L877.500 520.600 L865.600 518.800Z" fill="#fff"/>
  <path d="M875.600 172.500 H890 V518.800 L877.500 520.400 L875.600 520Z" fill="#dcdfe6"/>
  <path d="M866.600 172.600 H875.600 V520 L866.600 518.600Z" fill="#fff"/>
  <path d="M865.600 171.300 V518.800 L877.500 520.600 L890.600 518.800 V171.300" fill="none" stroke="#000" stroke-width="1.500"/>
  <line x1="865.600" y1="171.300" x2="865.600" y2="518.800" stroke="#000" stroke-width="2.200"/>
  <line x1="864.600" y1="171.500" x2="891.300" y2="171.500" stroke="#000" stroke-width="2.600"/>
</g>

<!-- 41_door_right_items.svg -->
<g id="door-right-items" stroke="#000" stroke-width="1.300" stroke-linejoin="round" stroke-linecap="round">
<g fill="#fff" stroke="#6f7176" stroke-width="1.250">
<path d="M726 216.500 Q726 214.400 728.500 214.400 H783 Q786 214.400 786 217 V229 H726Z" fill="#f4f4f6"/>
<path d="M722.500 230.500 Q722.500 228.800 724.500 228.800 H787 Q789 228.800 789 230.500 V233 Q789 234.600 787 234.600 H724.500 Q722.500 234.600 722.500 233Z" fill="#f4f4f6"/>
<path d="M726 234.600 V241.500 Q726 244 729 244 H783 Q786 244 786 241.500 V234.600" fill="#e6e8ec"/>
<line x1="766" y1="214.400" x2="766" y2="242"/>
</g>
<path d="M793 238.500 Q800 226 812 214 Q820 207 832 208.500 Q846 210 853 220 Q857 228 855 236 Q830 243 793 238.500Z" fill="#eeeef0" stroke="#85858a" stroke-width="1.100"/>
<path d="M829 240 Q838 226 850 219" fill="none" stroke="#c8c8ca" stroke-width="1"/>
<path d="M717.500 192.300 H772.500 L800 194.400 H823.500 L825 192.500 H829 L826 238.600 H714.600Z" fill="#fff" fill-opacity="0.350" stroke="none"/>
<g fill="none" stroke="#000" stroke-width="1.200">
<path d="M717.500 192.300 L714.600 238.600"/><path d="M717.500 192.300 H772.500 L800 194.400 H823.500"/>
<path d="M772.500 192.300 L772 238.600" stroke-width="1.300"/>
<path d="M825 192.500 L821 238.600 M829 192.500 L826.500 238.600 M824.500 192.500 H865" />
<path d="M721 193 L719 238 M741 193 V214 M752 193 V214" stroke="#888" stroke-width="0.900"/>
<path d="M778 194 V238 M800 195 V214" stroke="#aaa" stroke-width="0.900"/>
</g>
<path d="M714.400 238.800 H866 V243.800 L825 247 L714.400 245Z" fill="#fff" fill-opacity="0.550" stroke="none"/>
<path d="M714.400 238.800 H866 M714.400 238.800 V245 L825 247 L866 243.800" fill="none" stroke-width="1.500"/>
<path d="M720 330.600 L736 328.500 L865 330.400 V333 L824.400 335.600Z" fill="#f3f4f6" stroke-width="1.100"/>
<path d="M741 326 Q736 330 735.500 336 V355 Q735.500 360.500 742 360.500 H766 Q772 360.500 772 355 V336 Q771.500 330 766 326Z" fill="#fff"/>
<path d="M739.300 322.500 V325.500 Q753.400 330.500 767.600 325.500 V322.500" fill="#c5c9d1"/>
<ellipse cx="753.400" cy="322.500" rx="14.200" ry="3.900" fill="#c9ccd4"/>
<ellipse cx="753.400" cy="322.700" rx="10.500" ry="2.300" fill="#dfe2e8" stroke="#8d9098" stroke-width="0.800"/>
<path d="M776.4 317.8 V355 Q776.4 360.500 782.4 360.500 H802.5 Q808.5 360.500 808.5 355 V317.8" fill="#fff"/><path d="M802.0 322.0 V357 H807.3 V320.8Z" fill="#c5c9d1" stroke="none"/><ellipse cx="792.5" cy="317.8" rx="16.1" ry="4.700" fill="#fff"/><path d="M780.4 319.0 Q792.5 314.2 804.5 319.0 Q792.5 318.0 780.4 319.0Z" fill="#111" stroke="none"/><path d="M778.9 319.3 Q792.5 323.3 806.0 319.3" fill="none" stroke-width="0.900"/>
<path d="M808.5 319.2 V355 Q808.5 360.500 814.5 360.500 H838.2 Q844.2 360.500 844.2 355 V319.2" fill="#fff"/><path d="M837.7 323.4 V357 H843.0 V322.2Z" fill="#c5c9d1" stroke="none"/><ellipse cx="826.4" cy="319.2" rx="17.9" ry="4.700" fill="#fff"/><path d="M812.5 320.4 Q826.4 315.6 840.2 320.4 Q826.4 319.4 812.5 320.4Z" fill="#111" stroke="none"/><path d="M811.0 320.7 Q826.4 324.7 841.7 320.7" fill="none" stroke-width="0.900"/>
<path d="M720 344.400 L824.400 348 L865 346.300 V363.800 L824.400 365.600 L720 360Z" fill="#fff" fill-opacity="0.740"/>
<path d="M720 330.600 L824.400 335.600 L865 333 V346.300 L824.400 348 L720 344.400Z" fill="#c5c9d1"/>
<path d="M720 330.600 V360 L824.400 365.600 L865 363.800 M824.400 335.600 V365.600 M720 344.400 L824.400 348 L865 346.300 M720 330.600 L824.400 335.600 L865 333" fill="none" stroke-width="1.200"/>
<path d="M766.0 397.8 L742.4 414.0 Q739.4 418.0 739.4 426.0 V500 H788.0 V422.0 Q788.0 410.0 782.0 404.0 L782.0 397.8Z" fill="#ecedf1"/><path d="M766.5 386.8 V397.8 H781.5 V386.8" fill="#fff"/><path d="M765.0 391.8 H783.0 M765.0 394.6 H783.0 M765.0 397.4 H783.0" stroke-width="1.600" fill="none"/><ellipse cx="774.0" cy="386.8" rx="8.0" ry="3.200" fill="#fff"/><path d="M742.4 424.0 Q747.4 418.0 761.4 418.5 Q777.4 420.0 781.4 430.0" fill="none" stroke-width="1.200"/><line x1="786.4" y1="426.0" x2="786.4" y2="500" stroke-width="1.100"/><ellipse cx="791.0" cy="416.0" rx="3.600" ry="12" fill="#fff" stroke-width="1.300" transform="rotate(-8 791.0 416.0)"/><path d="M786.0 400.0 Q797.0 406.0 798.0 420.0" fill="none" stroke-width="1.100"/>
<path d="M720 457.500 L736 454.500 L866.300 458.200 V461.300 L824.400 465Z" fill="#f3f4f6" stroke-width="1.100"/>
<path d="M765.500 398.800 L742.500 413.600 Q739.400 415.800 739.400 420 V493 Q739.400 500 747 500 H780 Q787.500 500 787.500 493 V420 L786.500 404.500 L783 398.800Z" fill="#ecedf1"/>
<path d="M783 398.800 Q792 399.500 797.500 407 Q802 414 800.500 424 L796 431 L787.500 428 V405Z" fill="#ecedf1"/>
<path d="M786.800 405.500 Q791.500 405.500 794.500 411 Q797.500 418 796 427" fill="none" stroke-width="1.200"/>
<ellipse cx="791.800" cy="418" rx="2.600" ry="9" fill="#fff" stroke-width="1.200" transform="rotate(-10 791.800 418)"/>
<path d="M766 389 V398.800 H782.500 V389" fill="#fff"/>
<path d="M765.200 392.400 H783.300 M765 395 H783.500 M765 397.600 H783.500" fill="none" stroke-width="1.500"/>
<ellipse cx="774.300" cy="387" rx="8.800" ry="3.200" fill="#fff"/>
<path d="M742.500 423.500 Q743.500 418.800 750 418.800 L769 420.400 Q778 421.500 780 430" fill="none" stroke-width="1.200"/>
<line x1="786.300" y1="428.800" x2="786.300" y2="497" stroke-width="1.100"/>
<path d="M817.500 403.800 L794 422.400 Q790.600 425 790.600 429.500 V498 Q790.600 505 798 505 H849 Q856.300 505 856.300 498 V432 Q856.300 422 850.500 415.500 L835 403.800Z" fill="#ecedf1"/>
<path d="M817.800 394 V403.800 H834.600 V394" fill="#fff"/>
<path d="M817 397.400 H835.300 M816.800 400 H835.500 M816.800 402.600 H835.500" fill="none" stroke-width="1.500"/>
<ellipse cx="826" cy="392" rx="8.800" ry="3.200" fill="#fff"/>
<path d="M793.500 428.500 Q794.500 424.400 801 424.400 L819 425.200 Q830 426.500 832.500 434" fill="none" stroke-width="1.200"/>
<line x1="838" y1="433.800" x2="838" y2="503" stroke-width="1.100"/>
<path d="M838.500 412.500 Q842 410.500 846 412.500 Q852.500 418 853.500 436" fill="none" stroke-width="1.200"/>
<ellipse cx="845.200" cy="425.500" rx="3.800" ry="12.500" fill="#fff" stroke-width="1.300" transform="rotate(-7 845.200 425.500)"/>
<path d="M843 441.500 v6.500 q0.500 1.500 3.500 1.500" fill="none" stroke-width="1.200"/>
<path d="M720 472.500 L824.400 480 L866.300 476.900 V506.300 L824.400 510 L720 499.400Z" fill="#fff" fill-opacity="0.740"/>
<path d="M720 457.500 L824.400 465 L866.300 461.300 V476.900 L824.400 480 L720 472.500Z" fill="#c5c9d1"/>
<path d="M720 457.500 V499.400 L824.400 510 L866.300 506.300 M824.400 465 V510 M720 472.500 L824.400 480 L866.300 476.900" fill="none" stroke-width="1.200"/>
<path d="M720 457.500 L824.400 465 L866.300 461.300" fill="none" stroke-width="1.800"/>
</g>
<g><path d="M866.600 300 H875.600 V520 L866.600 518.600Z" fill="#fff"/><path d="M875.600 300 H890 V518.800 L877.500 520.400 L875.600 520Z" fill="#dcdfe6"/>
<line x1="865.600" y1="171.300" x2="865.600" y2="518.800" stroke="#000" stroke-width="2.200"/><path d="M865.600 518.800 L877.500 520.600 L890.600 518.800 V171.300" fill="none" stroke="#000" stroke-width="1.500"/></g>
<g fill="none" stroke="#000" stroke-width="3.200" stroke-linejoin="round">
<path d="M738.800 127 V126.300 L903.800 118 L927.500 119.400 V153.800 L913 154.400"/>
<path d="M922 154.400 V492.500 M913 494.200 L928 493 V528 L905 531.300 L738.800 513.800 V500"/>
</g>
<g fill="none" stroke-linejoin="miter">
<path d="M131 177.8 L483 177.8" stroke="#fff" stroke-width="8.5" stroke-linecap="butt"/>
<path d="M132 258.8 L457 258.8 L504 226" stroke="#fff" stroke-width="8.5" stroke-linecap="butt"/>
<path d="M132 449.6 L426 449.6" stroke="#fff" stroke-width="8.5" stroke-linecap="butt"/>
<path d="M131 560.6 L401.8 560.6 L446 530.8" stroke="#fff" stroke-width="8.5" stroke-linecap="butt"/>
<path d="M132 615.6 L401.5 615.6 L446 576.3" stroke="#fff" stroke-width="8.5" stroke-linecap="butt"/>
<path d="M132 710.8 L420 710.8" stroke="#fff" stroke-width="8.5" stroke-linecap="butt"/>
<path d="M978 161.8 L920 161.8" stroke="#fff" stroke-width="8.5" stroke-linecap="butt"/>
<path d="M978 213.8 L846 213.8" stroke="#fff" stroke-width="8.5" stroke-linecap="butt"/>
<path d="M978 289 L729.2 289" stroke="#fff" stroke-width="8.5" stroke-linecap="butt"/>
<path d="M978 390 L879.2 390" stroke="#fff" stroke-width="8.5" stroke-linecap="butt"/>
<path d="M978 488.4 L846 488.4" stroke="#fff" stroke-width="8.5" stroke-linecap="butt"/>
<path d="M978 559.6 L590 559.6 L547 587.2" stroke="#fff" stroke-width="8.5" stroke-linecap="butt"/>
<path d="M978 615.8 L628.2 615.8" stroke="#fff" stroke-width="8.5" stroke-linecap="butt"/>
<path d="M978 711 L628.2 711" stroke="#fff" stroke-width="8.5" stroke-linecap="butt"/>
<path d="M978 769 L628.2 769" stroke="#fff" stroke-width="8.5" stroke-linecap="butt"/>
<path d="M978 830.6 L628.2 826.3" stroke="#fff" stroke-width="8.5" stroke-linecap="butt"/>
<path d="M978 885 L546.8 885" stroke="#fff" stroke-width="8.5" stroke-linecap="butt"/>
<path d="M978 975 L744.8 975" stroke="#fff" stroke-width="8.5" stroke-linecap="butt"/>
<path d="M131 176.3 L483 176.3" stroke="#a6cdec" stroke-width="1.1"/>
<path d="M132 257.3 L457 257.3 L504 224.5" stroke="#a6cdec" stroke-width="1.1"/>
<path d="M132 448.1 L426 448.1" stroke="#a6cdec" stroke-width="1.1"/>
<path d="M131 559.1 L401.8 559.1 L446 529.3" stroke="#a6cdec" stroke-width="1.1"/>
<path d="M132 614.1 L401.5 614.1 L446 574.8" stroke="#a6cdec" stroke-width="1.1"/>
<path d="M132 709.3 L420 709.3" stroke="#a6cdec" stroke-width="1.1"/>
<path d="M978 160.3 L920 160.3" stroke="#a6cdec" stroke-width="1.1"/>
<path d="M978 212.3 L846 212.3" stroke="#a6cdec" stroke-width="1.1"/>
<path d="M978 287.5 L729.2 287.5" stroke="#a6cdec" stroke-width="1.1"/>
<path d="M978 388.5 L879.2 388.5" stroke="#a6cdec" stroke-width="1.1"/>
<path d="M978 486.9 L846 486.9" stroke="#a6cdec" stroke-width="1.1"/>
<path d="M978 558.1 L590 558.1 L547 585.7" stroke="#a6cdec" stroke-width="1.1"/>
<path d="M978 614.3 L628.2 614.3" stroke="#a6cdec" stroke-width="1.1"/>
<path d="M978 709.5 L628.2 709.5" stroke="#a6cdec" stroke-width="1.1"/>
<path d="M978 767.5 L628.2 767.5" stroke="#a6cdec" stroke-width="1.1"/>
<path d="M978 829.1 L628.2 824.8" stroke="#a6cdec" stroke-width="1.1"/>
<path d="M978 883.5 L546.8 883.5" stroke="#a6cdec" stroke-width="1.1"/>
<path d="M978 973.5 L744.8 973.5" stroke="#a6cdec" stroke-width="1.1"/>
<path d="M131 177.8 L483 177.8" stroke="#7c0306" stroke-width="3.1"/>
<path d="M132 258.8 L457 258.8 L504 226" stroke="#7c0306" stroke-width="3.1"/>
<path d="M132 449.6 L426 449.6" stroke="#7c0306" stroke-width="3.1"/>
<path d="M131 560.6 L401.8 560.6 L446 530.8" stroke="#7c0306" stroke-width="3.1"/>
<path d="M132 615.6 L401.5 615.6 L446 576.3" stroke="#7c0306" stroke-width="3.1"/>
<path d="M132 710.8 L420 710.8" stroke="#7c0306" stroke-width="3.1"/>
<path d="M978 161.8 L920 161.8" stroke="#7c0306" stroke-width="3.1"/>
<path d="M978 213.8 L846 213.8" stroke="#7c0306" stroke-width="3.1"/>
<path d="M978 289 L729.2 289" stroke="#7c0306" stroke-width="3.1"/>
<path d="M978 390 L879.2 390" stroke="#7c0306" stroke-width="3.1"/>
<path d="M978 488.4 L846 488.4" stroke="#7c0306" stroke-width="3.1"/>
<path d="M978 559.6 L590 559.6 L547 587.2" stroke="#7c0306" stroke-width="3.1"/>
<path d="M978 615.8 L628.2 615.8" stroke="#7c0306" stroke-width="3.1"/>
<path d="M978 711 L628.2 711" stroke="#7c0306" stroke-width="3.1"/>
<path d="M978 769 L628.2 769" stroke="#7c0306" stroke-width="3.1"/>
<path d="M978 830.6 L628.2 826.3" stroke="#7c0306" stroke-width="3.1"/>
<path d="M978 885 L546.8 885" stroke="#7c0306" stroke-width="3.1"/>
<path d="M978 975 L744.8 975" stroke="#7c0306" stroke-width="3.1"/>
</g>
<circle cx="483" cy="177.8" r="8" fill="#7c0306"/>
<circle cx="504" cy="226" r="8" fill="#7c0306"/>
<circle cx="426" cy="449.6" r="8" fill="#7c0306"/>
<circle cx="446" cy="530.8" r="8" fill="#7c0306"/>
<circle cx="446" cy="576.3" r="8" fill="#7c0306"/>
<circle cx="420" cy="710.8" r="8" fill="#7c0306"/>
<circle cx="920" cy="161.8" r="8" fill="#7c0306"/>
<circle cx="846" cy="213.8" r="8" fill="#7c0306"/>
<circle cx="729.2" cy="289" r="8" fill="#7c0306"/>
<circle cx="879.2" cy="390" r="8" fill="#7c0306"/>
<circle cx="846" cy="488.4" r="8" fill="#7c0306"/>
<circle cx="547" cy="587.2" r="8" fill="#7c0306"/>
<circle cx="628.2" cy="615.8" r="8" fill="#7c0306"/>
<circle cx="628.2" cy="711" r="8" fill="#7c0306"/>
<circle cx="628.2" cy="769" r="8" fill="#7c0306"/>
<circle cx="628.2" cy="826.3" r="8" fill="#7c0306"/>
<circle cx="546.8" cy="885" r="8" fill="#7c0306"/>
<circle cx="744.8" cy="975" r="8" fill="#7c0306"/>
<g font-family="Liberation Sans, sans-serif" font-size="32.5" fill="#fff" text-anchor="middle">
<rect x="69" y="162" width="62" height="32" fill="#7c0306"/>
<text x="100.6" y="189.4">1</text>
<rect x="70" y="243" width="62" height="32" fill="#7c0306"/>
<text x="101.6" y="270.4">2</text>
<rect x="70" y="434" width="62" height="32" fill="#7c0306"/>
<text x="101.6" y="461.4">3</text>
<rect x="69" y="545" width="62" height="32" fill="#7c0306"/>
<text x="100.6" y="572.4">4</text>
<rect x="70" y="600" width="62" height="32" fill="#7c0306"/>
<text x="101.6" y="627.4">5</text>
<rect x="70" y="692" width="62" height="32" fill="#7c0306"/>
<text x="101.6" y="719.4">6</text>
<rect x="978" y="146" width="62" height="32" fill="#7c0306"/>
<text x="1009.6" y="173.4">7</text>
<rect x="978" y="198" width="62" height="32" fill="#7c0306"/>
<text x="1009.6" y="225.4">8</text>
<rect x="978" y="273" width="62" height="32" fill="#7c0306"/>
<text x="1009.6" y="300.4">9</text>
<rect x="978" y="374" width="62" height="32" fill="#7c0306"/>
<text x="1009.6" y="401.4">10</text>
<rect x="978" y="473" width="62" height="32" fill="#7c0306"/>
<text x="1009.6" y="500.4">11</text>
<rect x="978" y="544" width="62" height="32" fill="#7c0306"/>
<text x="1009.6" y="571.4">12</text>
<rect x="978" y="600" width="62" height="32" fill="#7c0306"/>
<text x="1009.6" y="627.4">13</text>
<rect x="978" y="692" width="62" height="32" fill="#7c0306"/>
<text x="1009.6" y="719.4">14</text>
<rect x="978" y="753" width="62" height="32" fill="#7c0306"/>
<text x="1009.6" y="780.4">15</text>
<rect x="978" y="813" width="62" height="32" fill="#7c0306"/>
<text x="1009.6" y="840.4">16</text>
<rect x="978" y="869" width="62" height="32" fill="#7c0306"/>
<text x="1009.6" y="896.4">17</text>
<rect x="978" y="959" width="62" height="32" fill="#7c0306"/>
<text x="1009.6" y="986.4">18</text>
</g>
</svg>
<div id="legend">
<div class="n" style="top:163px">1.</div><div class="t" style="top:163px;letter-spacing:0.065px">Đèn nội thất</div>
<div class="n" style="top:205px">2.</div><div class="t" style="top:205px;letter-spacing:0.229px">Khe thông gió ngăn lạnh</div>
<div class="n" style="top:247px">3.</div><div class="t" style="top:247px;letter-spacing:0.190px">Ngăn kéo bảo quản rau củ quả</div>
<div class="n" style="top:289px">4.</div><div class="t" style="top:289px;letter-spacing:0.299px">Bảng điều khiển ngăn bảo quản rượu</div>
<div class="n" style="top:331px">5.</div><div class="t" style="top:331px;letter-spacing:0.296px">Kệ để chai dạng ngăn kéo trượt</div>
<div class="n" style="top:373px">6.</div><div class="t" style="top:373px;letter-spacing:0.093px">Khay làm đá viên</div>
<div class="n" style="top:415px">7.</div><div class="t" style="top:415px;letter-spacing:0.370px">Bảng điều khiển</div>
<div class="n" style="top:457px">8.</div><div class="t" style="top:457px;letter-spacing:0.341px">Kệ bảo quản bơ và phô mai</div>
<div class="n" style="top:499px">9.</div><div class="t" style="top:499px;letter-spacing:0.370px">Bảng thông số kỹ thuật sản phẩm</div>
<div class="n" style="top:541px">10.</div><div class="t" style="top:541px;letter-spacing:0.496px">Lớp chống ngưng tụ</div>
<div class="n" style="top:583px">11.</div><div class="t" style="top:583px;letter-spacing:0.220px">Kệ để chai lọ</div>
<div class="n" style="top:625px">12.</div><div class="t" style="top:625px;letter-spacing:0.199px">Đèn chiếu sáng ngăn chứa rượu</div>
<div class="n" style="top:667px">13.</div><div class="t" style="top:667px;letter-spacing:0.220px">Kệ để chai lọ</div>
<div class="n" style="top:709px">14.</div><div class="t" style="top:709px;letter-spacing:0.502px">Ngăn kéo đựng thực phẩm</div>
<div class="n" style="top:751px">15.</div><div class="t" style="top:751px;letter-spacing:0.488px">Ngăn đựng thực phẩm dạng nông</div>
<div class="n" style="top:793px">16.</div><div class="t" style="top:793px;letter-spacing:0.431px">Ngăn đựng thực phẩm dạng sâu</div>
<div class="n" style="top:835px">17.</div><div class="t" style="top:835px;letter-spacing:0.320px">Vách chia ngăn đựng thực phẩm</div>
<div class="n" style="top:877px">18.</div><div class="t" style="top:877px;letter-spacing:0.320px">Chân đế</div>
</div>
</body></html>
